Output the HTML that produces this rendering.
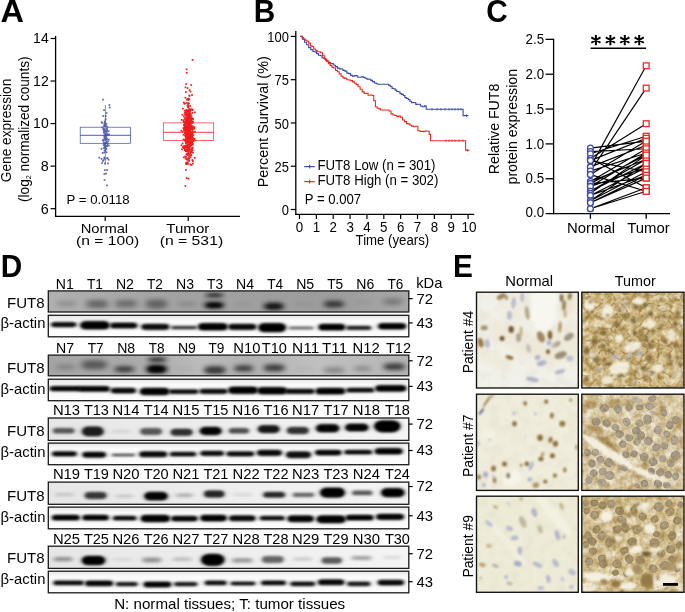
<!DOCTYPE html>
<html><head><meta charset="utf-8"><title>Figure</title>
<style>html,body{margin:0;padding:0;background:#fff;}svg{display:block}text{font-family:"Liberation Sans",sans-serif;}</style>
</head><body>
<svg width="685" height="612" viewBox="0 0 685 612" style="opacity:0.999">
<rect width="685" height="612" fill="#fff"/>
<text transform="translate(0.4,22) scale(1.06,1)" font-size="30.7" font-weight="bold">A</text>
<text transform="translate(253.8,22) scale(0.97,1)" font-size="30.7" font-weight="bold">B</text>
<text transform="translate(486.2,22) scale(0.97,1)" font-size="30.7" font-weight="bold">C</text>
<text transform="translate(0.8,277) scale(0.97,1)" font-size="30.7" font-weight="bold">D</text>
<text transform="translate(453,277) scale(0.97,1)" font-size="30.7" font-weight="bold">E</text>
<line x1="55.6" y1="35.9" x2="55.6" y2="216.9" stroke="#000" stroke-width="1.3"/>
<line x1="55.0" y1="216.3" x2="240" y2="216.3" stroke="#000" stroke-width="1.3"/>
<line x1="50.6" y1="208.65" x2="55.6" y2="208.65" stroke="#000" stroke-width="1.2"/>
<text x="48.7" y="213.55" font-size="14.3" text-anchor="end" textLength="8" lengthAdjust="spacingAndGlyphs">6</text>
<line x1="50.6" y1="166.1125" x2="55.6" y2="166.1125" stroke="#000" stroke-width="1.2"/>
<text x="48.7" y="171.01250000000002" font-size="14.3" text-anchor="end" textLength="8" lengthAdjust="spacingAndGlyphs">8</text>
<line x1="50.6" y1="123.575" x2="55.6" y2="123.575" stroke="#000" stroke-width="1.2"/>
<text x="48.7" y="128.475" font-size="14.3" text-anchor="end" textLength="15.6" lengthAdjust="spacingAndGlyphs">10</text>
<line x1="50.6" y1="81.0375" x2="55.6" y2="81.0375" stroke="#000" stroke-width="1.2"/>
<text x="48.7" y="85.9375" font-size="14.3" text-anchor="end" textLength="15.6" lengthAdjust="spacingAndGlyphs">12</text>
<line x1="50.6" y1="38.5" x2="55.6" y2="38.5" stroke="#000" stroke-width="1.2"/>
<text x="48.7" y="43.4" font-size="14.3" text-anchor="end" textLength="15.6" lengthAdjust="spacingAndGlyphs">14</text>
<line x1="105.2" y1="216.3" x2="105.2" y2="221" stroke="#000" stroke-width="1.2"/>
<line x1="188.2" y1="216.3" x2="188.2" y2="221" stroke="#000" stroke-width="1.2"/>
<text x="104.4" y="232.7" font-size="13.3" text-anchor="middle" textLength="47.5" lengthAdjust="spacingAndGlyphs">Normal</text>
<text x="107.6" y="245.2" font-size="13.3" text-anchor="middle" textLength="63" lengthAdjust="spacingAndGlyphs">(n = 100)</text>
<text x="187.8" y="232.7" font-size="13.3" text-anchor="middle" textLength="43" lengthAdjust="spacingAndGlyphs">Tumor</text>
<text x="191.4" y="245.2" font-size="13.3" text-anchor="middle" textLength="63.5" lengthAdjust="spacingAndGlyphs">(n = 531)</text>
<text x="66.6" y="204.4" font-size="13.6" textLength="63" lengthAdjust="spacingAndGlyphs">P = 0.0118</text>
<text x="0" y="0" transform="translate(11.3,130.5) rotate(-90)" font-size="14" text-anchor="middle" textLength="103.5" lengthAdjust="spacingAndGlyphs">Gene expression</text>
<text transform="translate(28.8,129.2) rotate(-90)" font-size="14" text-anchor="middle" textLength="145.5" lengthAdjust="spacingAndGlyphs">(log<tspan font-size="7.5" dy="2.5">2</tspan><tspan dy="-2.5"> normalized counts)</tspan></text>
<g fill="#3d4ba3" opacity="0.85"><rect x="106.7" y="133.3" width="1.7" height="1.7"/><rect x="106.2" y="145.3" width="1.7" height="1.7"/><rect x="104.1" y="137.5" width="1.7" height="1.7"/><rect x="104.5" y="132.6" width="1.7" height="1.7"/><rect x="106.5" y="125.9" width="1.7" height="1.7"/><rect x="105.5" y="134.8" width="1.7" height="1.7"/><rect x="103.9" y="145.8" width="1.7" height="1.7"/><rect x="102.3" y="139.5" width="1.7" height="1.7"/><rect x="101.8" y="152.1" width="1.7" height="1.7"/><rect x="104.3" y="137.2" width="1.7" height="1.7"/><rect x="104.7" y="138.2" width="1.7" height="1.7"/><rect x="104.4" y="150.0" width="1.7" height="1.7"/><rect x="105.8" y="131.6" width="1.7" height="1.7"/><rect x="103.9" y="144.3" width="1.7" height="1.7"/><rect x="103.7" y="158.0" width="1.7" height="1.7"/><rect x="102.1" y="160.1" width="1.7" height="1.7"/><rect x="100.8" y="121.5" width="1.7" height="1.7"/><rect x="105.1" y="125.1" width="1.7" height="1.7"/><rect x="105.3" y="138.1" width="1.7" height="1.7"/><rect x="106.3" y="128.3" width="1.7" height="1.7"/><rect x="103.5" y="137.1" width="1.7" height="1.7"/><rect x="102.9" y="141.5" width="1.7" height="1.7"/><rect x="103.2" y="134.9" width="1.7" height="1.7"/><rect x="101.4" y="121.9" width="1.7" height="1.7"/><rect x="102.9" y="147.2" width="1.7" height="1.7"/><rect x="107.8" y="158.9" width="1.7" height="1.7"/><rect x="104.1" y="162.6" width="1.7" height="1.7"/><rect x="107.4" y="140.6" width="1.7" height="1.7"/><rect x="106.4" y="157.6" width="1.7" height="1.7"/><rect x="104.3" y="143.0" width="1.7" height="1.7"/><rect x="105.6" y="142.3" width="1.7" height="1.7"/><rect x="104.4" y="147.7" width="1.7" height="1.7"/><rect x="107.7" y="130.3" width="1.7" height="1.7"/><rect x="107.1" y="162.6" width="1.7" height="1.7"/><rect x="103.7" y="123.3" width="1.7" height="1.7"/><rect x="103.8" y="130.9" width="1.7" height="1.7"/><rect x="104.9" y="115.2" width="1.7" height="1.7"/><rect x="104.2" y="136.9" width="1.7" height="1.7"/><rect x="104.2" y="136.8" width="1.7" height="1.7"/><rect x="108.0" y="144.7" width="1.7" height="1.7"/><rect x="98.4" y="156.8" width="1.7" height="1.7"/><rect x="104.3" y="135.9" width="1.7" height="1.7"/><rect x="104.2" y="130.1" width="1.7" height="1.7"/><rect x="105.1" y="136.2" width="1.7" height="1.7"/><rect x="103.8" y="123.1" width="1.7" height="1.7"/><rect x="107.8" y="138.8" width="1.7" height="1.7"/><rect x="102.9" y="128.2" width="1.7" height="1.7"/><rect x="103.5" y="125.3" width="1.7" height="1.7"/><rect x="105.1" y="148.2" width="1.7" height="1.7"/><rect x="102.8" y="144.2" width="1.7" height="1.7"/><rect x="103.7" y="149.6" width="1.7" height="1.7"/><rect x="103.8" y="121.5" width="1.7" height="1.7"/><rect x="105.7" y="151.4" width="1.7" height="1.7"/><rect x="106.0" y="133.7" width="1.7" height="1.7"/><rect x="104.3" y="120.4" width="1.7" height="1.7"/><rect x="104.5" y="136.1" width="1.7" height="1.7"/><rect x="105.7" y="147.7" width="1.7" height="1.7"/><rect x="104.8" y="118.4" width="1.7" height="1.7"/><rect x="104.1" y="137.2" width="1.7" height="1.7"/><rect x="103.2" y="143.6" width="1.7" height="1.7"/><rect x="103.1" y="139.1" width="1.7" height="1.7"/><rect x="101.9" y="139.5" width="1.7" height="1.7"/><rect x="104.6" y="130.3" width="1.7" height="1.7"/><rect x="100.6" y="147.9" width="1.7" height="1.7"/><rect x="106.4" y="134.5" width="1.7" height="1.7"/><rect x="103.7" y="143.0" width="1.7" height="1.7"/><rect x="105.7" y="141.1" width="1.7" height="1.7"/><rect x="106.2" y="145.1" width="1.7" height="1.7"/><rect x="106.1" y="138.0" width="1.7" height="1.7"/><rect x="104.2" y="134.0" width="1.7" height="1.7"/><rect x="103.4" y="151.7" width="1.7" height="1.7"/><rect x="105.7" y="137.5" width="1.7" height="1.7"/><rect x="103.4" y="131.6" width="1.7" height="1.7"/><rect x="106.2" y="129.6" width="1.7" height="1.7"/><rect x="103.8" y="136.2" width="1.7" height="1.7"/><rect x="105.9" y="139.0" width="1.7" height="1.7"/><rect x="103.0" y="128.1" width="1.7" height="1.7"/><rect x="103.7" y="130.0" width="1.7" height="1.7"/><rect x="106.7" y="143.2" width="1.7" height="1.7"/><rect x="103.3" y="124.8" width="1.7" height="1.7"/><rect x="105.4" y="133.5" width="1.7" height="1.7"/><rect x="104.3" y="141.9" width="1.7" height="1.7"/><rect x="101.5" y="126.6" width="1.7" height="1.7"/><rect x="105.8" y="130.6" width="1.7" height="1.7"/><rect x="102.3" y="128.5" width="1.7" height="1.7"/><rect x="103.1" y="130.7" width="1.7" height="1.7"/><rect x="105.6" y="127.8" width="1.7" height="1.7"/><rect x="103.2" y="131.9" width="1.7" height="1.7"/><rect x="106.0" y="141.3" width="1.7" height="1.7"/><rect x="105.4" y="144.9" width="1.7" height="1.7"/><rect x="104.1" y="128.4" width="1.7" height="1.7"/><rect x="108.2" y="133.6" width="1.7" height="1.7"/><rect x="100.7" y="158.0" width="1.7" height="1.7"/><rect x="105.6" y="122.9" width="1.7" height="1.7"/><rect x="104.5" y="138.1" width="1.7" height="1.7"/><rect x="103.5" y="156.7" width="1.7" height="1.7"/><rect x="104.2" y="146.5" width="1.7" height="1.7"/><rect x="104.6" y="124.1" width="1.7" height="1.7"/><rect x="103.4" y="130.1" width="1.7" height="1.7"/><rect x="104.7" y="139.5" width="1.7" height="1.7"/><rect x="102.2" y="98.8" width="1.7" height="1.7"/><rect x="108.6" y="104.2" width="1.7" height="1.7"/><rect x="108.8" y="106.7" width="1.7" height="1.7"/><rect x="106.2" y="184.6" width="1.7" height="1.7"/><rect x="103.7" y="179.2" width="1.7" height="1.7"/><rect x="105.2" y="172.7" width="1.7" height="1.7"/><rect x="103.5" y="173.2" width="1.7" height="1.7"/><rect x="104.0" y="169.2" width="1.7" height="1.7"/><rect x="106.2" y="169.2" width="1.7" height="1.7"/><rect x="101.2" y="162.2" width="1.7" height="1.7"/><rect x="102.7" y="159.2" width="1.7" height="1.7"/><rect x="106.7" y="157.2" width="1.7" height="1.7"/><rect x="103.2" y="109.2" width="1.7" height="1.7"/><rect x="105.7" y="112.2" width="1.7" height="1.7"/><rect x="102.4" y="115.2" width="1.7" height="1.7"/></g>
<rect x="80.2" y="127.2" width="50.4" height="16.1" fill="none" stroke="#3d4ba3" stroke-width="0.7"/>
<line x1="80.2" y1="135.3" x2="130.6" y2="135.3" stroke="#3d4ba3" stroke-width="0.9"/>
<line x1="105.4" y1="105" x2="105.4" y2="127.2" stroke="#3d4ba3" stroke-width="0.6"/>
<line x1="105.4" y1="143.3" x2="105.4" y2="165" stroke="#3d4ba3" stroke-width="0.6"/>
<g fill="#ee1d1d"><rect x="190.6" y="134.8" width="1.7" height="1.7"/><rect x="192.0" y="143.1" width="1.7" height="1.7"/><rect x="190.1" y="144.6" width="1.7" height="1.7"/><rect x="191.4" y="141.7" width="1.7" height="1.7"/><rect x="188.6" y="128.9" width="1.7" height="1.7"/><rect x="186.2" y="120.4" width="1.7" height="1.7"/><rect x="183.0" y="145.4" width="1.7" height="1.7"/><rect x="186.0" y="113.7" width="1.7" height="1.7"/><rect x="187.6" y="139.1" width="1.7" height="1.7"/><rect x="183.7" y="102.9" width="1.7" height="1.7"/><rect x="186.7" y="127.3" width="1.7" height="1.7"/><rect x="183.5" y="123.3" width="1.7" height="1.7"/><rect x="189.6" y="136.4" width="1.7" height="1.7"/><rect x="191.3" y="108.9" width="1.7" height="1.7"/><rect x="187.8" y="142.8" width="1.7" height="1.7"/><rect x="184.5" y="132.3" width="1.7" height="1.7"/><rect x="189.4" y="151.0" width="1.7" height="1.7"/><rect x="187.3" y="127.4" width="1.7" height="1.7"/><rect x="185.3" y="113.7" width="1.7" height="1.7"/><rect x="187.7" y="123.4" width="1.7" height="1.7"/><rect x="188.8" y="131.6" width="1.7" height="1.7"/><rect x="188.3" y="128.3" width="1.7" height="1.7"/><rect x="192.1" y="127.1" width="1.7" height="1.7"/><rect x="190.0" y="135.2" width="1.7" height="1.7"/><rect x="186.8" y="122.3" width="1.7" height="1.7"/><rect x="185.7" y="119.6" width="1.7" height="1.7"/><rect x="185.8" y="114.5" width="1.7" height="1.7"/><rect x="188.4" y="137.7" width="1.7" height="1.7"/><rect x="189.7" y="119.1" width="1.7" height="1.7"/><rect x="187.2" y="118.3" width="1.7" height="1.7"/><rect x="188.9" y="144.2" width="1.7" height="1.7"/><rect x="185.5" y="126.6" width="1.7" height="1.7"/><rect x="188.1" y="117.1" width="1.7" height="1.7"/><rect x="188.7" y="144.3" width="1.7" height="1.7"/><rect x="185.6" y="149.4" width="1.7" height="1.7"/><rect x="184.1" y="125.2" width="1.7" height="1.7"/><rect x="184.5" y="130.3" width="1.7" height="1.7"/><rect x="186.0" y="120.5" width="1.7" height="1.7"/><rect x="184.2" y="128.2" width="1.7" height="1.7"/><rect x="189.8" y="135.6" width="1.7" height="1.7"/><rect x="183.4" y="124.4" width="1.7" height="1.7"/><rect x="189.7" y="117.8" width="1.7" height="1.7"/><rect x="190.9" y="136.1" width="1.7" height="1.7"/><rect x="187.5" y="145.7" width="1.7" height="1.7"/><rect x="190.7" y="115.2" width="1.7" height="1.7"/><rect x="185.1" y="112.8" width="1.7" height="1.7"/><rect x="188.6" y="155.8" width="1.7" height="1.7"/><rect x="187.3" y="150.9" width="1.7" height="1.7"/><rect x="190.1" y="148.8" width="1.7" height="1.7"/><rect x="188.9" y="119.5" width="1.7" height="1.7"/><rect x="187.8" y="130.6" width="1.7" height="1.7"/><rect x="188.5" y="135.0" width="1.7" height="1.7"/><rect x="188.7" y="127.3" width="1.7" height="1.7"/><rect x="192.0" y="136.8" width="1.7" height="1.7"/><rect x="190.9" y="126.8" width="1.7" height="1.7"/><rect x="185.6" y="112.1" width="1.7" height="1.7"/><rect x="190.5" y="154.5" width="1.7" height="1.7"/><rect x="187.8" y="136.2" width="1.7" height="1.7"/><rect x="188.0" y="134.4" width="1.7" height="1.7"/><rect x="187.4" y="147.5" width="1.7" height="1.7"/><rect x="187.6" y="137.3" width="1.7" height="1.7"/><rect x="189.5" y="163.6" width="1.7" height="1.7"/><rect x="183.7" y="126.1" width="1.7" height="1.7"/><rect x="187.7" y="141.1" width="1.7" height="1.7"/><rect x="187.7" y="122.0" width="1.7" height="1.7"/><rect x="187.7" y="111.4" width="1.7" height="1.7"/><rect x="186.1" y="144.8" width="1.7" height="1.7"/><rect x="186.2" y="120.4" width="1.7" height="1.7"/><rect x="190.0" y="119.0" width="1.7" height="1.7"/><rect x="190.0" y="122.5" width="1.7" height="1.7"/><rect x="187.6" y="133.2" width="1.7" height="1.7"/><rect x="186.2" y="139.1" width="1.7" height="1.7"/><rect x="186.4" y="152.8" width="1.7" height="1.7"/><rect x="184.4" y="145.8" width="1.7" height="1.7"/><rect x="188.7" y="128.8" width="1.7" height="1.7"/><rect x="190.8" y="135.6" width="1.7" height="1.7"/><rect x="190.1" y="117.6" width="1.7" height="1.7"/><rect x="184.2" y="139.3" width="1.7" height="1.7"/><rect x="188.4" y="123.0" width="1.7" height="1.7"/><rect x="188.6" y="120.6" width="1.7" height="1.7"/><rect x="187.0" y="113.1" width="1.7" height="1.7"/><rect x="185.6" y="121.4" width="1.7" height="1.7"/><rect x="186.6" y="163.2" width="1.7" height="1.7"/><rect x="183.8" y="109.8" width="1.7" height="1.7"/><rect x="186.1" y="116.5" width="1.7" height="1.7"/><rect x="187.8" y="136.4" width="1.7" height="1.7"/><rect x="185.4" y="127.8" width="1.7" height="1.7"/><rect x="188.7" y="129.0" width="1.7" height="1.7"/><rect x="185.9" y="119.1" width="1.7" height="1.7"/><rect x="192.0" y="109.0" width="1.7" height="1.7"/><rect x="184.6" y="96.9" width="1.7" height="1.7"/><rect x="183.4" y="128.4" width="1.7" height="1.7"/><rect x="188.9" y="125.5" width="1.7" height="1.7"/><rect x="184.0" y="146.9" width="1.7" height="1.7"/><rect x="189.1" y="128.2" width="1.7" height="1.7"/><rect x="187.0" y="141.9" width="1.7" height="1.7"/><rect x="188.0" y="140.7" width="1.7" height="1.7"/><rect x="191.3" y="128.7" width="1.7" height="1.7"/><rect x="182.5" y="146.8" width="1.7" height="1.7"/><rect x="186.3" y="124.5" width="1.7" height="1.7"/><rect x="189.3" y="126.8" width="1.7" height="1.7"/><rect x="191.0" y="122.4" width="1.7" height="1.7"/><rect x="183.8" y="111.8" width="1.7" height="1.7"/><rect x="192.3" y="131.7" width="1.7" height="1.7"/><rect x="189.9" y="136.5" width="1.7" height="1.7"/><rect x="186.7" y="131.6" width="1.7" height="1.7"/><rect x="190.0" y="108.6" width="1.7" height="1.7"/><rect x="189.7" y="134.2" width="1.7" height="1.7"/><rect x="186.0" y="149.2" width="1.7" height="1.7"/><rect x="187.7" y="118.1" width="1.7" height="1.7"/><rect x="188.7" y="145.7" width="1.7" height="1.7"/><rect x="190.6" y="126.2" width="1.7" height="1.7"/><rect x="187.0" y="117.4" width="1.7" height="1.7"/><rect x="187.3" y="137.6" width="1.7" height="1.7"/><rect x="191.0" y="134.0" width="1.7" height="1.7"/><rect x="190.8" y="108.5" width="1.7" height="1.7"/><rect x="187.1" y="125.5" width="1.7" height="1.7"/><rect x="186.8" y="118.1" width="1.7" height="1.7"/><rect x="183.8" y="127.5" width="1.7" height="1.7"/><rect x="191.0" y="136.8" width="1.7" height="1.7"/><rect x="184.2" y="145.2" width="1.7" height="1.7"/><rect x="191.5" y="133.1" width="1.7" height="1.7"/><rect x="186.8" y="110.4" width="1.7" height="1.7"/><rect x="187.4" y="137.5" width="1.7" height="1.7"/><rect x="187.7" y="143.9" width="1.7" height="1.7"/><rect x="184.3" y="135.0" width="1.7" height="1.7"/><rect x="187.1" y="138.9" width="1.7" height="1.7"/><rect x="185.1" y="142.9" width="1.7" height="1.7"/><rect x="192.0" y="118.1" width="1.7" height="1.7"/><rect x="186.7" y="134.8" width="1.7" height="1.7"/><rect x="187.1" y="123.8" width="1.7" height="1.7"/><rect x="190.9" y="141.8" width="1.7" height="1.7"/><rect x="186.0" y="145.4" width="1.7" height="1.7"/><rect x="185.6" y="140.1" width="1.7" height="1.7"/><rect x="189.0" y="134.2" width="1.7" height="1.7"/><rect x="189.2" y="110.6" width="1.7" height="1.7"/><rect x="184.8" y="130.3" width="1.7" height="1.7"/><rect x="185.5" y="131.7" width="1.7" height="1.7"/><rect x="189.9" y="132.2" width="1.7" height="1.7"/><rect x="187.2" y="127.9" width="1.7" height="1.7"/><rect x="187.6" y="141.4" width="1.7" height="1.7"/><rect x="185.5" y="129.3" width="1.7" height="1.7"/><rect x="189.7" y="137.9" width="1.7" height="1.7"/><rect x="186.6" y="154.1" width="1.7" height="1.7"/><rect x="191.2" y="147.2" width="1.7" height="1.7"/><rect x="188.8" y="122.3" width="1.7" height="1.7"/><rect x="188.3" y="125.2" width="1.7" height="1.7"/><rect x="184.0" y="126.7" width="1.7" height="1.7"/><rect x="189.0" y="127.2" width="1.7" height="1.7"/><rect x="189.5" y="150.9" width="1.7" height="1.7"/><rect x="184.1" y="121.4" width="1.7" height="1.7"/><rect x="186.9" y="137.4" width="1.7" height="1.7"/><rect x="188.5" y="138.2" width="1.7" height="1.7"/><rect x="187.1" y="148.7" width="1.7" height="1.7"/><rect x="189.3" y="127.6" width="1.7" height="1.7"/><rect x="187.1" y="130.1" width="1.7" height="1.7"/><rect x="183.1" y="121.1" width="1.7" height="1.7"/><rect x="186.9" y="117.7" width="1.7" height="1.7"/><rect x="186.7" y="148.4" width="1.7" height="1.7"/><rect x="182.9" y="156.5" width="1.7" height="1.7"/><rect x="185.9" y="135.4" width="1.7" height="1.7"/><rect x="185.6" y="120.5" width="1.7" height="1.7"/><rect x="185.4" y="149.0" width="1.7" height="1.7"/><rect x="187.7" y="106.7" width="1.7" height="1.7"/><rect x="185.4" y="139.4" width="1.7" height="1.7"/><rect x="187.3" y="146.2" width="1.7" height="1.7"/><rect x="190.3" y="124.8" width="1.7" height="1.7"/><rect x="188.3" y="114.7" width="1.7" height="1.7"/><rect x="185.7" y="140.1" width="1.7" height="1.7"/><rect x="185.3" y="163.3" width="1.7" height="1.7"/><rect x="186.9" y="124.9" width="1.7" height="1.7"/><rect x="184.5" y="125.6" width="1.7" height="1.7"/><rect x="188.3" y="118.2" width="1.7" height="1.7"/><rect x="188.6" y="130.2" width="1.7" height="1.7"/><rect x="186.4" y="162.2" width="1.7" height="1.7"/><rect x="191.8" y="143.4" width="1.7" height="1.7"/><rect x="186.5" y="133.4" width="1.7" height="1.7"/><rect x="185.2" y="118.8" width="1.7" height="1.7"/><rect x="186.0" y="110.8" width="1.7" height="1.7"/><rect x="185.5" y="131.6" width="1.7" height="1.7"/><rect x="182.7" y="119.5" width="1.7" height="1.7"/><rect x="185.8" y="121.1" width="1.7" height="1.7"/><rect x="185.0" y="130.1" width="1.7" height="1.7"/><rect x="188.1" y="127.6" width="1.7" height="1.7"/><rect x="188.4" y="122.5" width="1.7" height="1.7"/><rect x="189.9" y="122.1" width="1.7" height="1.7"/><rect x="184.9" y="136.3" width="1.7" height="1.7"/><rect x="189.2" y="148.7" width="1.7" height="1.7"/><rect x="190.1" y="136.1" width="1.7" height="1.7"/><rect x="185.3" y="130.2" width="1.7" height="1.7"/><rect x="192.1" y="118.1" width="1.7" height="1.7"/><rect x="185.5" y="133.3" width="1.7" height="1.7"/><rect x="189.7" y="142.7" width="1.7" height="1.7"/><rect x="186.7" y="139.0" width="1.7" height="1.7"/><rect x="187.7" y="121.2" width="1.7" height="1.7"/><rect x="186.4" y="129.2" width="1.7" height="1.7"/><rect x="188.0" y="139.8" width="1.7" height="1.7"/><rect x="189.0" y="128.6" width="1.7" height="1.7"/><rect x="188.4" y="137.8" width="1.7" height="1.7"/><rect x="187.8" y="124.1" width="1.7" height="1.7"/><rect x="190.0" y="122.8" width="1.7" height="1.7"/><rect x="187.8" y="128.0" width="1.7" height="1.7"/><rect x="188.4" y="144.4" width="1.7" height="1.7"/><rect x="186.9" y="132.1" width="1.7" height="1.7"/><rect x="189.0" y="142.4" width="1.7" height="1.7"/><rect x="188.6" y="94.9" width="1.7" height="1.7"/><rect x="188.7" y="129.6" width="1.7" height="1.7"/><rect x="187.9" y="139.1" width="1.7" height="1.7"/><rect x="186.2" y="140.1" width="1.7" height="1.7"/><rect x="188.2" y="127.5" width="1.7" height="1.7"/><rect x="185.8" y="132.4" width="1.7" height="1.7"/><rect x="185.1" y="127.1" width="1.7" height="1.7"/><rect x="186.9" y="120.0" width="1.7" height="1.7"/><rect x="189.5" y="130.8" width="1.7" height="1.7"/><rect x="184.7" y="123.0" width="1.7" height="1.7"/><rect x="188.5" y="134.3" width="1.7" height="1.7"/><rect x="182.1" y="146.1" width="1.7" height="1.7"/><rect x="187.5" y="131.8" width="1.7" height="1.7"/><rect x="187.8" y="124.8" width="1.7" height="1.7"/><rect x="188.2" y="129.0" width="1.7" height="1.7"/><rect x="188.8" y="111.5" width="1.7" height="1.7"/><rect x="186.7" y="123.2" width="1.7" height="1.7"/><rect x="187.2" y="115.0" width="1.7" height="1.7"/><rect x="182.8" y="120.5" width="1.7" height="1.7"/><rect x="187.4" y="127.4" width="1.7" height="1.7"/><rect x="190.6" y="137.3" width="1.7" height="1.7"/><rect x="187.3" y="125.1" width="1.7" height="1.7"/><rect x="192.0" y="138.2" width="1.7" height="1.7"/><rect x="189.2" y="120.3" width="1.7" height="1.7"/><rect x="190.6" y="141.5" width="1.7" height="1.7"/><rect x="187.0" y="123.0" width="1.7" height="1.7"/><rect x="183.9" y="132.3" width="1.7" height="1.7"/><rect x="185.1" y="121.7" width="1.7" height="1.7"/><rect x="186.6" y="119.0" width="1.7" height="1.7"/><rect x="188.5" y="139.5" width="1.7" height="1.7"/><rect x="185.1" y="127.8" width="1.7" height="1.7"/><rect x="189.0" y="131.9" width="1.7" height="1.7"/><rect x="184.6" y="134.3" width="1.7" height="1.7"/><rect x="185.4" y="134.2" width="1.7" height="1.7"/><rect x="187.8" y="138.9" width="1.7" height="1.7"/><rect x="187.2" y="131.5" width="1.7" height="1.7"/><rect x="188.4" y="154.0" width="1.7" height="1.7"/><rect x="186.7" y="133.6" width="1.7" height="1.7"/><rect x="192.1" y="128.6" width="1.7" height="1.7"/><rect x="184.0" y="148.8" width="1.7" height="1.7"/><rect x="185.8" y="120.1" width="1.7" height="1.7"/><rect x="185.4" y="112.6" width="1.7" height="1.7"/><rect x="189.6" y="137.6" width="1.7" height="1.7"/><rect x="188.7" y="118.1" width="1.7" height="1.7"/><rect x="187.4" y="124.4" width="1.7" height="1.7"/><rect x="187.2" y="137.0" width="1.7" height="1.7"/><rect x="189.3" y="113.1" width="1.7" height="1.7"/><rect x="188.4" y="130.5" width="1.7" height="1.7"/><rect x="190.4" y="119.2" width="1.7" height="1.7"/><rect x="187.5" y="132.7" width="1.7" height="1.7"/><rect x="193.6" y="126.2" width="1.7" height="1.7"/><rect x="190.6" y="127.4" width="1.7" height="1.7"/><rect x="189.6" y="152.2" width="1.7" height="1.7"/><rect x="185.2" y="150.4" width="1.7" height="1.7"/><rect x="187.3" y="139.6" width="1.7" height="1.7"/><rect x="188.5" y="128.3" width="1.7" height="1.7"/><rect x="186.7" y="127.7" width="1.7" height="1.7"/><rect x="188.5" y="94.7" width="1.7" height="1.7"/><rect x="192.3" y="121.5" width="1.7" height="1.7"/><rect x="189.0" y="117.3" width="1.7" height="1.7"/><rect x="191.9" y="126.3" width="1.7" height="1.7"/><rect x="185.5" y="145.9" width="1.7" height="1.7"/><rect x="183.0" y="128.8" width="1.7" height="1.7"/><rect x="190.2" y="141.6" width="1.7" height="1.7"/><rect x="188.0" y="137.2" width="1.7" height="1.7"/><rect x="185.0" y="121.2" width="1.7" height="1.7"/><rect x="186.2" y="127.0" width="1.7" height="1.7"/><rect x="187.0" y="146.0" width="1.7" height="1.7"/><rect x="186.7" y="131.6" width="1.7" height="1.7"/><rect x="189.8" y="140.0" width="1.7" height="1.7"/><rect x="188.9" y="114.8" width="1.7" height="1.7"/><rect x="185.2" y="132.2" width="1.7" height="1.7"/><rect x="185.1" y="142.2" width="1.7" height="1.7"/><rect x="189.7" y="127.9" width="1.7" height="1.7"/><rect x="187.6" y="118.1" width="1.7" height="1.7"/><rect x="188.1" y="136.1" width="1.7" height="1.7"/><rect x="189.0" y="129.1" width="1.7" height="1.7"/><rect x="186.1" y="110.3" width="1.7" height="1.7"/><rect x="182.9" y="101.7" width="1.7" height="1.7"/><rect x="184.2" y="155.6" width="1.7" height="1.7"/><rect x="187.1" y="145.1" width="1.7" height="1.7"/><rect x="186.1" y="102.1" width="1.7" height="1.7"/><rect x="186.8" y="115.5" width="1.7" height="1.7"/><rect x="185.3" y="128.7" width="1.7" height="1.7"/><rect x="187.6" y="99.2" width="1.7" height="1.7"/><rect x="192.8" y="139.4" width="1.7" height="1.7"/><rect x="188.6" y="128.3" width="1.7" height="1.7"/><rect x="185.8" y="132.8" width="1.7" height="1.7"/><rect x="187.2" y="150.7" width="1.7" height="1.7"/><rect x="188.6" y="108.3" width="1.7" height="1.7"/><rect x="190.1" y="133.2" width="1.7" height="1.7"/><rect x="190.8" y="143.8" width="1.7" height="1.7"/><rect x="185.8" y="131.0" width="1.7" height="1.7"/><rect x="188.8" y="121.4" width="1.7" height="1.7"/><rect x="188.1" y="135.6" width="1.7" height="1.7"/><rect x="190.9" y="117.2" width="1.7" height="1.7"/><rect x="181.7" y="142.6" width="1.7" height="1.7"/><rect x="187.1" y="102.4" width="1.7" height="1.7"/><rect x="188.6" y="136.6" width="1.7" height="1.7"/><rect x="190.0" y="136.7" width="1.7" height="1.7"/><rect x="187.2" y="148.1" width="1.7" height="1.7"/><rect x="191.1" y="148.3" width="1.7" height="1.7"/><rect x="190.2" y="134.2" width="1.7" height="1.7"/><rect x="184.9" y="111.5" width="1.7" height="1.7"/><rect x="189.3" y="133.9" width="1.7" height="1.7"/><rect x="187.3" y="130.1" width="1.7" height="1.7"/><rect x="189.7" y="119.1" width="1.7" height="1.7"/><rect x="187.3" y="139.0" width="1.7" height="1.7"/><rect x="188.1" y="121.8" width="1.7" height="1.7"/><rect x="185.1" y="128.8" width="1.7" height="1.7"/><rect x="187.1" y="106.4" width="1.7" height="1.7"/><rect x="187.6" y="127.1" width="1.7" height="1.7"/><rect x="188.0" y="129.9" width="1.7" height="1.7"/><rect x="188.5" y="142.4" width="1.7" height="1.7"/><rect x="188.6" y="114.1" width="1.7" height="1.7"/><rect x="188.8" y="120.7" width="1.7" height="1.7"/><rect x="191.8" y="130.4" width="1.7" height="1.7"/><rect x="188.5" y="140.3" width="1.7" height="1.7"/><rect x="188.3" y="116.5" width="1.7" height="1.7"/><rect x="185.2" y="145.5" width="1.7" height="1.7"/><rect x="185.5" y="109.0" width="1.7" height="1.7"/><rect x="188.9" y="130.7" width="1.7" height="1.7"/><rect x="183.6" y="129.5" width="1.7" height="1.7"/><rect x="187.4" y="157.2" width="1.7" height="1.7"/><rect x="187.1" y="141.6" width="1.7" height="1.7"/><rect x="188.0" y="129.5" width="1.7" height="1.7"/><rect x="183.8" y="149.4" width="1.7" height="1.7"/><rect x="186.2" y="117.7" width="1.7" height="1.7"/><rect x="183.1" y="147.1" width="1.7" height="1.7"/><rect x="184.8" y="123.3" width="1.7" height="1.7"/><rect x="189.1" y="145.4" width="1.7" height="1.7"/><rect x="188.9" y="126.5" width="1.7" height="1.7"/><rect x="181.1" y="148.5" width="1.7" height="1.7"/><rect x="187.0" y="144.6" width="1.7" height="1.7"/><rect x="189.7" y="140.0" width="1.7" height="1.7"/><rect x="185.3" y="125.8" width="1.7" height="1.7"/><rect x="187.3" y="122.9" width="1.7" height="1.7"/><rect x="190.2" y="137.6" width="1.7" height="1.7"/><rect x="190.0" y="154.1" width="1.7" height="1.7"/><rect x="182.9" y="115.6" width="1.7" height="1.7"/><rect x="187.3" y="133.5" width="1.7" height="1.7"/><rect x="186.3" y="146.6" width="1.7" height="1.7"/><rect x="187.8" y="142.1" width="1.7" height="1.7"/><rect x="182.7" y="138.6" width="1.7" height="1.7"/><rect x="189.7" y="114.1" width="1.7" height="1.7"/><rect x="189.7" y="142.5" width="1.7" height="1.7"/><rect x="184.1" y="102.5" width="1.7" height="1.7"/><rect x="186.5" y="136.5" width="1.7" height="1.7"/><rect x="187.0" y="123.0" width="1.7" height="1.7"/><rect x="190.5" y="150.4" width="1.7" height="1.7"/><rect x="189.3" y="135.3" width="1.7" height="1.7"/><rect x="185.9" y="98.8" width="1.7" height="1.7"/><rect x="189.7" y="136.6" width="1.7" height="1.7"/><rect x="188.8" y="132.3" width="1.7" height="1.7"/><rect x="194.1" y="130.9" width="1.7" height="1.7"/><rect x="188.4" y="121.9" width="1.7" height="1.7"/><rect x="188.5" y="129.0" width="1.7" height="1.7"/><rect x="187.0" y="153.6" width="1.7" height="1.7"/><rect x="184.9" y="120.4" width="1.7" height="1.7"/><rect x="187.4" y="130.2" width="1.7" height="1.7"/><rect x="193.4" y="138.0" width="1.7" height="1.7"/><rect x="188.4" y="120.8" width="1.7" height="1.7"/><rect x="187.8" y="141.8" width="1.7" height="1.7"/><rect x="187.4" y="135.0" width="1.7" height="1.7"/><rect x="193.4" y="127.7" width="1.7" height="1.7"/><rect x="191.6" y="112.0" width="1.7" height="1.7"/><rect x="194.1" y="111.5" width="1.7" height="1.7"/><rect x="184.7" y="140.0" width="1.7" height="1.7"/><rect x="188.3" y="127.9" width="1.7" height="1.7"/><rect x="186.2" y="130.3" width="1.7" height="1.7"/><rect x="191.6" y="121.1" width="1.7" height="1.7"/><rect x="187.1" y="127.7" width="1.7" height="1.7"/><rect x="187.0" y="114.0" width="1.7" height="1.7"/><rect x="188.4" y="135.7" width="1.7" height="1.7"/><rect x="192.0" y="162.8" width="1.7" height="1.7"/><rect x="188.8" y="132.2" width="1.7" height="1.7"/><rect x="188.6" y="126.3" width="1.7" height="1.7"/><rect x="191.7" y="149.5" width="1.7" height="1.7"/><rect x="188.3" y="122.7" width="1.7" height="1.7"/><rect x="184.7" y="86.5" width="1.7" height="1.7"/><rect x="187.4" y="120.3" width="1.7" height="1.7"/><rect x="192.1" y="151.8" width="1.7" height="1.7"/><rect x="188.0" y="152.6" width="1.7" height="1.7"/><rect x="188.1" y="131.9" width="1.7" height="1.7"/><rect x="190.8" y="144.0" width="1.7" height="1.7"/><rect x="184.7" y="127.2" width="1.7" height="1.7"/><rect x="188.3" y="147.8" width="1.7" height="1.7"/><rect x="188.7" y="147.0" width="1.7" height="1.7"/><rect x="186.3" y="126.1" width="1.7" height="1.7"/><rect x="184.7" y="157.9" width="1.7" height="1.7"/><rect x="186.5" y="125.7" width="1.7" height="1.7"/><rect x="186.6" y="104.6" width="1.7" height="1.7"/><rect x="189.2" y="125.4" width="1.7" height="1.7"/><rect x="188.4" y="129.4" width="1.7" height="1.7"/><rect x="187.3" y="116.5" width="1.7" height="1.7"/><rect x="186.8" y="126.0" width="1.7" height="1.7"/><rect x="188.1" y="102.6" width="1.7" height="1.7"/><rect x="180.8" y="119.0" width="1.7" height="1.7"/><rect x="185.1" y="137.6" width="1.7" height="1.7"/><rect x="186.6" y="130.2" width="1.7" height="1.7"/><rect x="187.0" y="145.5" width="1.7" height="1.7"/><rect x="190.1" y="119.3" width="1.7" height="1.7"/><rect x="190.1" y="138.2" width="1.7" height="1.7"/><rect x="189.1" y="139.4" width="1.7" height="1.7"/><rect x="190.1" y="142.8" width="1.7" height="1.7"/><rect x="187.0" y="98.1" width="1.7" height="1.7"/><rect x="184.3" y="113.5" width="1.7" height="1.7"/><rect x="193.8" y="139.6" width="1.7" height="1.7"/><rect x="188.8" y="131.7" width="1.7" height="1.7"/><rect x="187.6" y="153.6" width="1.7" height="1.7"/><rect x="190.4" y="141.7" width="1.7" height="1.7"/><rect x="193.5" y="138.2" width="1.7" height="1.7"/><rect x="188.4" y="146.1" width="1.7" height="1.7"/><rect x="186.7" y="158.9" width="1.7" height="1.7"/><rect x="187.4" y="113.7" width="1.7" height="1.7"/><rect x="188.8" y="149.0" width="1.7" height="1.7"/><rect x="188.7" y="117.4" width="1.7" height="1.7"/><rect x="184.4" y="116.8" width="1.7" height="1.7"/><rect x="189.3" y="105.1" width="1.7" height="1.7"/><rect x="192.0" y="160.3" width="1.7" height="1.7"/><rect x="188.8" y="137.3" width="1.7" height="1.7"/><rect x="186.2" y="158.6" width="1.7" height="1.7"/><rect x="189.6" y="156.4" width="1.7" height="1.7"/><rect x="185.5" y="134.0" width="1.7" height="1.7"/><rect x="190.2" y="136.0" width="1.7" height="1.7"/><rect x="189.0" y="141.7" width="1.7" height="1.7"/><rect x="183.8" y="147.4" width="1.7" height="1.7"/><rect x="187.0" y="137.6" width="1.7" height="1.7"/><rect x="189.8" y="128.3" width="1.7" height="1.7"/><rect x="186.8" y="136.6" width="1.7" height="1.7"/><rect x="188.6" y="120.0" width="1.7" height="1.7"/><rect x="188.2" y="131.5" width="1.7" height="1.7"/><rect x="186.4" y="161.5" width="1.7" height="1.7"/><rect x="186.8" y="153.2" width="1.7" height="1.7"/><rect x="183.8" y="118.1" width="1.7" height="1.7"/><rect x="186.4" y="117.9" width="1.7" height="1.7"/><rect x="186.6" y="133.7" width="1.7" height="1.7"/><rect x="186.1" y="120.8" width="1.7" height="1.7"/><rect x="188.4" y="160.0" width="1.7" height="1.7"/><rect x="189.1" y="132.9" width="1.7" height="1.7"/><rect x="184.9" y="122.3" width="1.7" height="1.7"/><rect x="187.9" y="127.9" width="1.7" height="1.7"/><rect x="187.9" y="131.8" width="1.7" height="1.7"/><rect x="186.4" y="126.4" width="1.7" height="1.7"/><rect x="189.9" y="132.9" width="1.7" height="1.7"/><rect x="187.5" y="145.7" width="1.7" height="1.7"/><rect x="185.2" y="145.0" width="1.7" height="1.7"/><rect x="188.1" y="136.6" width="1.7" height="1.7"/><rect x="187.2" y="109.5" width="1.7" height="1.7"/><rect x="188.9" y="117.7" width="1.7" height="1.7"/><rect x="180.5" y="129.8" width="1.7" height="1.7"/><rect x="187.8" y="129.0" width="1.7" height="1.7"/><rect x="188.0" y="145.4" width="1.7" height="1.7"/><rect x="185.0" y="110.1" width="1.7" height="1.7"/><rect x="189.7" y="138.0" width="1.7" height="1.7"/><rect x="185.3" y="156.1" width="1.7" height="1.7"/><rect x="189.8" y="126.6" width="1.7" height="1.7"/><rect x="189.4" y="113.7" width="1.7" height="1.7"/><rect x="188.5" y="98.4" width="1.7" height="1.7"/><rect x="187.2" y="148.9" width="1.7" height="1.7"/><rect x="188.5" y="122.0" width="1.7" height="1.7"/><rect x="188.5" y="158.0" width="1.7" height="1.7"/><rect x="187.2" y="142.0" width="1.7" height="1.7"/><rect x="187.3" y="110.3" width="1.7" height="1.7"/><rect x="187.4" y="140.1" width="1.7" height="1.7"/><rect x="192.4" y="139.9" width="1.7" height="1.7"/><rect x="189.7" y="119.2" width="1.7" height="1.7"/><rect x="186.2" y="140.4" width="1.7" height="1.7"/><rect x="182.6" y="127.2" width="1.7" height="1.7"/><rect x="184.7" y="116.4" width="1.7" height="1.7"/><rect x="188.4" y="129.4" width="1.7" height="1.7"/><rect x="188.5" y="141.9" width="1.7" height="1.7"/><rect x="192.0" y="121.0" width="1.7" height="1.7"/><rect x="191.8" y="125.3" width="1.7" height="1.7"/><rect x="187.2" y="124.3" width="1.7" height="1.7"/><rect x="186.5" y="118.7" width="1.7" height="1.7"/><rect x="189.1" y="128.7" width="1.7" height="1.7"/><rect x="188.3" y="114.8" width="1.7" height="1.7"/><rect x="190.6" y="151.3" width="1.7" height="1.7"/><rect x="187.0" y="128.4" width="1.7" height="1.7"/><rect x="189.0" y="142.2" width="1.7" height="1.7"/><rect x="189.2" y="126.1" width="1.7" height="1.7"/><rect x="191.2" y="132.6" width="1.7" height="1.7"/><rect x="188.6" y="134.5" width="1.7" height="1.7"/><rect x="190.1" y="128.0" width="1.7" height="1.7"/><rect x="187.0" y="140.5" width="1.7" height="1.7"/><rect x="186.1" y="133.9" width="1.7" height="1.7"/><rect x="184.9" y="140.0" width="1.7" height="1.7"/><rect x="191.1" y="120.3" width="1.7" height="1.7"/><rect x="189.4" y="144.6" width="1.7" height="1.7"/><rect x="185.8" y="146.9" width="1.7" height="1.7"/><rect x="187.9" y="135.3" width="1.7" height="1.7"/><rect x="183.2" y="124.4" width="1.7" height="1.7"/><rect x="187.8" y="149.2" width="1.7" height="1.7"/><rect x="192.5" y="134.3" width="1.7" height="1.7"/><rect x="186.2" y="134.7" width="1.7" height="1.7"/><rect x="181.5" y="113.9" width="1.7" height="1.7"/><rect x="193.9" y="157.0" width="1.7" height="1.7"/><rect x="187.8" y="139.6" width="1.7" height="1.7"/><rect x="185.6" y="133.4" width="1.7" height="1.7"/><rect x="184.6" y="132.9" width="1.7" height="1.7"/><rect x="189.4" y="117.4" width="1.7" height="1.7"/><rect x="185.5" y="121.3" width="1.7" height="1.7"/><rect x="186.5" y="158.0" width="1.7" height="1.7"/><rect x="188.5" y="146.3" width="1.7" height="1.7"/><rect x="185.5" y="153.5" width="1.7" height="1.7"/><rect x="188.6" y="129.0" width="1.7" height="1.7"/><rect x="184.7" y="129.6" width="1.7" height="1.7"/><rect x="192.2" y="140.4" width="1.7" height="1.7"/><rect x="185.7" y="117.7" width="1.7" height="1.7"/><rect x="187.3" y="104.2" width="1.7" height="1.7"/><rect x="185.7" y="130.9" width="1.7" height="1.7"/><rect x="187.9" y="109.7" width="1.7" height="1.7"/><rect x="185.5" y="132.0" width="1.7" height="1.7"/><rect x="188.0" y="148.8" width="1.7" height="1.7"/><rect x="191.2" y="130.8" width="1.7" height="1.7"/><rect x="186.8" y="143.6" width="1.7" height="1.7"/><rect x="189.5" y="117.0" width="1.7" height="1.7"/><rect x="191.0" y="140.4" width="1.7" height="1.7"/><rect x="189.7" y="124.2" width="1.7" height="1.7"/><rect x="189.9" y="126.0" width="1.7" height="1.7"/><rect x="187.1" y="136.7" width="1.7" height="1.7"/><rect x="188.5" y="115.6" width="1.7" height="1.7"/><rect x="190.3" y="125.8" width="1.7" height="1.7"/><rect x="188.6" y="127.6" width="1.7" height="1.7"/><rect x="186.4" y="161.7" width="1.7" height="1.7"/><rect x="185.6" y="119.4" width="1.7" height="1.7"/><rect x="188.2" y="135.0" width="1.7" height="1.7"/><rect x="189.6" y="132.8" width="1.7" height="1.7"/><rect x="187.2" y="124.3" width="1.7" height="1.7"/><rect x="186.8" y="115.7" width="1.7" height="1.7"/><rect x="188.4" y="140.8" width="1.7" height="1.7"/><rect x="187.3" y="122.0" width="1.7" height="1.7"/><rect x="186.5" y="145.9" width="1.7" height="1.7"/><rect x="189.2" y="127.7" width="1.7" height="1.7"/><rect x="187.3" y="106.1" width="1.7" height="1.7"/><rect x="182.7" y="134.0" width="1.7" height="1.7"/><rect x="189.7" y="113.0" width="1.7" height="1.7"/><rect x="186.0" y="130.8" width="1.7" height="1.7"/><rect x="185.8" y="120.7" width="1.7" height="1.7"/><rect x="189.4" y="109.7" width="1.7" height="1.7"/><rect x="187.3" y="112.9" width="1.7" height="1.7"/><rect x="184.4" y="114.2" width="1.7" height="1.7"/><rect x="187.6" y="110.4" width="1.7" height="1.7"/><rect x="186.7" y="147.4" width="1.7" height="1.7"/><rect x="188.2" y="144.5" width="1.7" height="1.7"/><rect x="184.7" y="141.0" width="1.7" height="1.7"/><rect x="187.1" y="135.9" width="1.7" height="1.7"/><rect x="189.2" y="128.0" width="1.7" height="1.7"/><rect x="188.6" y="113.2" width="1.7" height="1.7"/><rect x="182.0" y="107.8" width="1.7" height="1.7"/><rect x="189.8" y="131.9" width="1.7" height="1.7"/><rect x="187.2" y="149.3" width="1.7" height="1.7"/><rect x="184.1" y="127.8" width="1.7" height="1.7"/><rect x="189.0" y="138.9" width="1.7" height="1.7"/><rect x="191.2" y="135.3" width="1.7" height="1.7"/><rect x="187.5" y="97.8" width="1.7" height="1.7"/><rect x="187.6" y="146.9" width="1.7" height="1.7"/><rect x="184.4" y="138.8" width="1.7" height="1.7"/><rect x="186.6" y="136.5" width="1.7" height="1.7"/><rect x="189.8" y="135.9" width="1.7" height="1.7"/><rect x="188.6" y="115.9" width="1.7" height="1.7"/><rect x="188.6" y="135.9" width="1.7" height="1.7"/><rect x="188.2" y="130.5" width="1.7" height="1.7"/><rect x="180.6" y="144.4" width="1.7" height="1.7"/><rect x="186.3" y="118.5" width="1.7" height="1.7"/><rect x="187.6" y="137.9" width="1.7" height="1.7"/><rect x="186.9" y="131.6" width="1.7" height="1.7"/><rect x="187.9" y="109.5" width="1.7" height="1.7"/><rect x="185.6" y="127.6" width="1.7" height="1.7"/><rect x="188.7" y="132.2" width="1.7" height="1.7"/><rect x="188.4" y="132.0" width="1.7" height="1.7"/><rect x="188.5" y="144.0" width="1.7" height="1.7"/><rect x="186.6" y="145.1" width="1.7" height="1.7"/><rect x="188.1" y="141.6" width="1.7" height="1.7"/><rect x="188.3" y="115.6" width="1.7" height="1.7"/><rect x="188.0" y="143.1" width="1.7" height="1.7"/><rect x="189.3" y="116.4" width="1.7" height="1.7"/><rect x="185.1" y="123.9" width="1.7" height="1.7"/><rect x="186.1" y="138.6" width="1.7" height="1.7"/><rect x="188.2" y="137.5" width="1.7" height="1.7"/><rect x="186.8" y="130.3" width="1.7" height="1.7"/><rect x="186.0" y="122.9" width="1.7" height="1.7"/><rect x="187.9" y="135.4" width="1.7" height="1.7"/><rect x="185.7" y="149.8" width="1.7" height="1.7"/><rect x="185.2" y="150.3" width="1.7" height="1.7"/><rect x="187.4" y="132.8" width="1.7" height="1.7"/><rect x="188.4" y="126.1" width="1.7" height="1.7"/><rect x="191.9" y="146.7" width="1.7" height="1.7"/><rect x="184.9" y="112.0" width="1.7" height="1.7"/><rect x="186.5" y="140.5" width="1.7" height="1.7"/><rect x="189.0" y="128.1" width="1.7" height="1.7"/><rect x="181.8" y="130.8" width="1.7" height="1.7"/><rect x="189.6" y="90.8" width="1.7" height="1.7"/><rect x="185.9" y="119.3" width="1.7" height="1.7"/><rect x="191.7" y="59.0" width="1.7" height="1.7"/><rect x="185.8" y="68.5" width="1.7" height="1.7"/><rect x="185.8" y="72.0" width="1.7" height="1.7"/><rect x="184.5" y="185.2" width="1.7" height="1.7"/><rect x="187.7" y="177.8" width="1.7" height="1.7"/><rect x="185.8" y="177.2" width="1.7" height="1.7"/><rect x="185.0" y="169.2" width="1.7" height="1.7"/><rect x="185.2" y="83.2" width="1.7" height="1.7"/><rect x="190.2" y="84.2" width="1.7" height="1.7"/><rect x="186.7" y="87.2" width="1.7" height="1.7"/><rect x="188.7" y="89.2" width="1.7" height="1.7"/><rect x="185.0" y="91.2" width="1.7" height="1.7"/><rect x="191.2" y="94.2" width="1.7" height="1.7"/><rect x="190.7" y="164.2" width="1.7" height="1.7"/><rect x="185.2" y="162.2" width="1.7" height="1.7"/><rect x="191.6" y="159.2" width="1.7" height="1.7"/></g>
<rect x="163.3" y="122.9" width="50.4" height="17.7" fill="none" stroke="#ee2a24" stroke-width="0.7"/>
<line x1="163.3" y1="132.3" x2="213.7" y2="132.3" stroke="#ee2a24" stroke-width="0.9"/>
<line x1="188.5" y1="140.6" x2="188.5" y2="165.3" stroke="#ee2a24" stroke-width="0.6"/>
<line x1="295.8" y1="31.1" x2="295.8" y2="214.9" stroke="#000" stroke-width="1.3"/>
<line x1="295.2" y1="214.3" x2="474.2" y2="214.3" stroke="#000" stroke-width="1.3"/>
<line x1="290.8" y1="209.5" x2="295.8" y2="209.5" stroke="#000" stroke-width="1.2"/>
<text x="288.90000000000003" y="215.2" font-size="14.3" text-anchor="end" textLength="7.2" lengthAdjust="spacingAndGlyphs">0</text>
<line x1="290.8" y1="166.225" x2="295.8" y2="166.225" stroke="#000" stroke-width="1.2"/>
<text x="288.90000000000003" y="171.92499999999998" font-size="14.3" text-anchor="end" textLength="14.4" lengthAdjust="spacingAndGlyphs">25</text>
<line x1="290.8" y1="122.95" x2="295.8" y2="122.95" stroke="#000" stroke-width="1.2"/>
<text x="288.90000000000003" y="128.65" font-size="14.3" text-anchor="end" textLength="14.4" lengthAdjust="spacingAndGlyphs">50</text>
<line x1="290.8" y1="79.67500000000001" x2="295.8" y2="79.67500000000001" stroke="#000" stroke-width="1.2"/>
<text x="288.90000000000003" y="85.37500000000001" font-size="14.3" text-anchor="end" textLength="14.4" lengthAdjust="spacingAndGlyphs">75</text>
<line x1="290.8" y1="36.400000000000006" x2="295.8" y2="36.400000000000006" stroke="#000" stroke-width="1.2"/>
<text x="288.90000000000003" y="42.10000000000001" font-size="14.3" text-anchor="end" textLength="21.6" lengthAdjust="spacingAndGlyphs">100</text>
<line x1="299.5" y1="214.3" x2="299.5" y2="219" stroke="#000" stroke-width="1.2"/>
<text x="299.5" y="232.2" font-size="14.6" text-anchor="middle" textLength="7.4" lengthAdjust="spacingAndGlyphs">0</text>
<line x1="316.36" y1="214.3" x2="316.36" y2="219" stroke="#000" stroke-width="1.2"/>
<text x="316.36" y="232.2" font-size="14.6" text-anchor="middle" textLength="7.4" lengthAdjust="spacingAndGlyphs">1</text>
<line x1="333.22" y1="214.3" x2="333.22" y2="219" stroke="#000" stroke-width="1.2"/>
<text x="333.22" y="232.2" font-size="14.6" text-anchor="middle" textLength="7.4" lengthAdjust="spacingAndGlyphs">2</text>
<line x1="350.08" y1="214.3" x2="350.08" y2="219" stroke="#000" stroke-width="1.2"/>
<text x="350.08" y="232.2" font-size="14.6" text-anchor="middle" textLength="7.4" lengthAdjust="spacingAndGlyphs">3</text>
<line x1="366.94" y1="214.3" x2="366.94" y2="219" stroke="#000" stroke-width="1.2"/>
<text x="366.94" y="232.2" font-size="14.6" text-anchor="middle" textLength="7.4" lengthAdjust="spacingAndGlyphs">4</text>
<line x1="383.8" y1="214.3" x2="383.8" y2="219" stroke="#000" stroke-width="1.2"/>
<text x="383.8" y="232.2" font-size="14.6" text-anchor="middle" textLength="7.4" lengthAdjust="spacingAndGlyphs">5</text>
<line x1="400.65999999999997" y1="214.3" x2="400.65999999999997" y2="219" stroke="#000" stroke-width="1.2"/>
<text x="400.65999999999997" y="232.2" font-size="14.6" text-anchor="middle" textLength="7.4" lengthAdjust="spacingAndGlyphs">6</text>
<line x1="417.52" y1="214.3" x2="417.52" y2="219" stroke="#000" stroke-width="1.2"/>
<text x="417.52" y="232.2" font-size="14.6" text-anchor="middle" textLength="7.4" lengthAdjust="spacingAndGlyphs">7</text>
<line x1="434.38" y1="214.3" x2="434.38" y2="219" stroke="#000" stroke-width="1.2"/>
<text x="434.38" y="232.2" font-size="14.6" text-anchor="middle" textLength="7.4" lengthAdjust="spacingAndGlyphs">8</text>
<line x1="451.24" y1="214.3" x2="451.24" y2="219" stroke="#000" stroke-width="1.2"/>
<text x="451.24" y="232.2" font-size="14.6" text-anchor="middle" textLength="7.4" lengthAdjust="spacingAndGlyphs">9</text>
<line x1="468.1" y1="214.3" x2="468.1" y2="219" stroke="#000" stroke-width="1.2"/>
<text x="468.90000000000003" y="232.2" font-size="14.6" text-anchor="middle" textLength="15" lengthAdjust="spacingAndGlyphs">10</text>
<text x="392.4" y="245" font-size="14" text-anchor="middle" textLength="73.6" lengthAdjust="spacingAndGlyphs">Time (years)</text>
<text x="0" y="0" transform="translate(267.6,121.8) rotate(-90)" font-size="14" text-anchor="middle" textLength="131" lengthAdjust="spacingAndGlyphs">Percent Survival (%)</text>
<path d="M300.3,36.4 H302.4 V39.3 H304.5 V42.3 H306.6 V44.7 H308.7 V47.6 H310.8 V49.6 H312.9 V51.5 H314.8 V51.9 H316.6 V53.6 H318.5 V55.3 H320.4 V55.8 H322.1 V57.9 H323.7 V58.3 H325.4 V60.3 H327.1 V61.0 H328.8 V62.5 H330.4 V63.6 H332.1 V63.8 H333.8 V65.2 H335.5 V66.6 H337.4 V68.1 H339.2 V68.9 H341.1 V69.0 H343.0 V70.4 H344.9 V71.1 H346.8 V73.1 H348.7 V73.6 H350.6 V75.4 H352.4 V76.2 H354.2 V75.6 H356.0 V75.9 H357.7 V77.2 H359.5 V77.3 H361.3 V76.8 H363.1 V77.4 H365.0 V78.2 H366.9 V79.1 H368.8 V79.2 H370.7 V80.4 H372.5 V81.6 H374.4 V83.0 H376.2 V83.8 H378.0 V84.2 H387.0 V84.2 H388.7 V85.4 H390.3 V86.5 H392.0 V88.4 H393.6 V88.8 H395.2 V90.1 H396.8 V91.5 H398.4 V91.7 H400.0 V93.6 H401.6 V94.4 H403.3 V95.5 H404.9 V97.6 H406.6 V98.5 H408.3 V99.6 H409.9 V101.2 H411.6 V102.6 H413.7 V102.5 H415.8 V104.4 H417.9 V104.3 H420.4 V106.0 H422.3 V106.7 H424.3 V105.9 H426.2 V106.8 V109.3 H426.7 H463.1 V109.3 V115.6 H463.6 H468.1 V115.6" fill="none" stroke="#3d4ba3" stroke-width="1.1"/>
<path d="M300.3,36.4 H302.0 V37.5 H303.6 V39.0 H305.3 V40.2 H307.0 V41.2 H308.7 V43.1 H310.4 V45.9 H312.0 V46.5 H313.7 V49.0 H315.4 V50.3 H317.1 V51.8 H318.7 V51.7 H320.4 V52.8 H322.5 V55.8 H324.6 V59.1 H326.7 V61.6 H328.5 V63.7 H330.2 V65.5 H332.0 V67.4 H333.7 V68.0 H335.5 V70.4 H337.4 V71.7 H339.2 V73.9 H341.1 V76.2 H343.0 V77.9 H344.9 V78.4 H346.8 V79.8 H348.7 V80.0 H350.6 V80.6 H352.5 V81.9 H354.4 V83.2 H356.2 V84.6 H358.1 V86.7 H360.1 V89.2 H362.2 V91.9 H364.2 V93.5 H366.1 V93.4 H368.1 V95.2 H370.1 V95.0 H372.0 V95.5 H373.7 V100.8 H375.4 V106.8 H377.1 V108.3 H378.8 V108.9 H380.5 V110.0 H387.0 V110.0 H389.0 V111.0 H391.0 V113.9 H393.0 V115.0 H394.9 V115.5 H396.8 V116.6 H398.6 V116.1 H400.5 V117.2 H402.5 V120.0 H404.6 V121.6 H406.6 V123.6 H408.3 V123.9 H409.9 V125.2 H411.6 V126.1 H413.7 V126.8 H415.8 V126.3 H417.9 V126.9 V130.7 H418.4 H420.1 V131.5 H421.7 V131.4 H423.4 V131.7 H425.0 V131.0 H426.7 V131.2 H429.2 V134.4 H430.5 V140.7 H465.6 V140.7 V150.3 H466.4 H468.6 V150.3" fill="none" stroke="#ee2a24" stroke-width="1.1"/>
<path d="M432,108 V110.6 M437,108 V110.6 M441,108 V110.6 M445,108 V110.6 M449,108 V110.6 M452,108 V110.6 M455,108 V110.6 M458,108 V110.6 M461,108 V110.6 M466.5,114.3 V116.9 M465,115.6 H468.5" stroke="#3d4ba3" stroke-width="0.8" fill="none"/>
<path d="M446,139.4 V142 M449,139.4 V142 M452,139.4 V142 M455,139.4 V142 M459,139.4 V142 M463,139.4 V142 M467.5,149 V151.6 M466,150.3 H469.5" stroke="#ee2a24" stroke-width="0.8" fill="none"/>
<line x1="304.2" y1="166.6" x2="314.8" y2="166.6" stroke="#3d4ba3" stroke-width="1.2"/>
<line x1="309.6" y1="164.8" x2="309.6" y2="168.4" stroke="#3d4ba3" stroke-width="1.1"/>
<line x1="304.2" y1="181.6" x2="314.8" y2="181.6" stroke="#ee2a24" stroke-width="1.2"/>
<line x1="309.6" y1="179.8" x2="309.6" y2="183.4" stroke="#ee2a24" stroke-width="1.1"/>
<text x="317.4" y="169.6" font-size="14" textLength="118" lengthAdjust="spacingAndGlyphs">FUT8 Low (n = 301)</text>
<text x="317.4" y="185.4" font-size="14" textLength="121" lengthAdjust="spacingAndGlyphs">FUT8 High (n = 302)</text>
<text x="304.8" y="203.9" font-size="14" textLength="56.3" lengthAdjust="spacingAndGlyphs">P = 0.007</text>
<line x1="553.6" y1="38.74999999999999" x2="553.6" y2="214.2" stroke="#000" stroke-width="1.3"/>
<line x1="545.7" y1="213.6" x2="670" y2="213.6" stroke="#000" stroke-width="1.3"/>
<line x1="545.6" y1="178.75" x2="553.6" y2="178.75" stroke="#000" stroke-width="1.3"/>
<line x1="545.6" y1="143.89999999999998" x2="553.6" y2="143.89999999999998" stroke="#000" stroke-width="1.3"/>
<line x1="545.6" y1="109.04999999999998" x2="553.6" y2="109.04999999999998" stroke="#000" stroke-width="1.3"/>
<line x1="545.6" y1="74.19999999999999" x2="553.6" y2="74.19999999999999" stroke="#000" stroke-width="1.3"/>
<line x1="545.6" y1="39.349999999999994" x2="553.6" y2="39.349999999999994" stroke="#000" stroke-width="1.3"/>
<text x="544.1" y="216.79999999999998" font-size="14.3" text-anchor="end" textLength="18.5" lengthAdjust="spacingAndGlyphs">0.0</text>
<text x="544.1" y="183.45" font-size="14.3" text-anchor="end" textLength="18.5" lengthAdjust="spacingAndGlyphs">0.5</text>
<text x="544.1" y="148.59999999999997" font-size="14.3" text-anchor="end" textLength="18.5" lengthAdjust="spacingAndGlyphs">1.0</text>
<text x="544.1" y="113.74999999999999" font-size="14.3" text-anchor="end" textLength="18.5" lengthAdjust="spacingAndGlyphs">1.5</text>
<text x="544.1" y="78.89999999999999" font-size="14.3" text-anchor="end" textLength="18.5" lengthAdjust="spacingAndGlyphs">2.0</text>
<text x="544.1" y="44.05" font-size="14.3" text-anchor="end" textLength="18.5" lengthAdjust="spacingAndGlyphs">2.5</text>
<line x1="590.4" y1="213.6" x2="590.4" y2="218.8" stroke="#000" stroke-width="1.3"/>
<line x1="646.2" y1="213.6" x2="646.2" y2="218.8" stroke="#000" stroke-width="1.3"/>
<text x="591" y="232.7" font-size="14" text-anchor="middle" textLength="48" lengthAdjust="spacingAndGlyphs">Normal</text>
<text x="648.5" y="232.7" font-size="14" text-anchor="middle" textLength="42.5" lengthAdjust="spacingAndGlyphs">Tumor</text>
<text x="0" y="0" transform="translate(498.8,128.9) rotate(-90)" font-size="14.4" text-anchor="middle" textLength="90.5" lengthAdjust="spacingAndGlyphs">Relative FUT8</text>
<text x="0" y="0" transform="translate(516.8,126.7) rotate(-90)" font-size="14.4" text-anchor="middle" textLength="115.5" lengthAdjust="spacingAndGlyphs">protein expression</text>
<line x1="590.6" y1="48.3" x2="646.1" y2="48.3" stroke="#000" stroke-width="1.4"/>
<path d="M595.9,35.0 V45.2 M591.31,37.45 L600.49,42.75 M600.49,37.45 L591.31,42.75 M610.4,35.0 V45.2 M605.81,37.45 L614.99,42.75 M614.99,37.45 L605.81,42.75 M624.8,35.0 V45.2 M620.21,37.45 L629.39,42.75 M629.39,37.45 L620.21,42.75 M639.2,35.0 V45.2 M634.61,37.45 L643.79,42.75 M643.79,37.45 L634.61,42.75 " stroke="#000" stroke-width="2" fill="none"/>
<path d="M590.4,166.9 L646.2,65.8 M590.4,171.1 L646.2,88.1 M590.4,158.5 L646.2,123.7 M590.4,148.1 L646.2,141.1 M590.4,151.6 L646.2,148.8 M590.4,153.7 L646.2,136.2 M590.4,158.5 L646.2,187.8 M590.4,160.6 L646.2,138.3 M590.4,160.6 L646.2,171.8 M590.4,166.9 L646.2,145.3 M590.4,171.1 L646.2,153.0 M590.4,174.6 L646.2,191.3 M590.4,174.6 L646.2,141.1 M590.4,181.5 L646.2,148.8 M590.4,181.5 L646.2,159.2 M590.4,183.6 L646.2,155.1 M590.4,183.6 L646.2,178.1 M590.4,186.4 L646.2,153.0 M590.4,186.4 L646.2,167.6 M590.4,191.3 L646.2,159.2 M590.4,191.3 L646.2,163.4 M590.4,193.4 L646.2,155.1 M590.4,195.5 L646.2,167.6 M590.4,195.5 L646.2,175.3 M590.4,200.7 L646.2,163.4 M590.4,200.7 L646.2,171.8 M590.4,202.8 L646.2,175.3 M590.4,202.8 L646.2,178.1 M590.4,208.7 L646.2,187.8 M590.4,208.7 L646.2,191.3 " stroke="#000" stroke-width="1.15" fill="none"/>
<g fill="#fff" stroke="#3d4ba3" stroke-width="1.3"><circle cx="590.4" cy="166.9" r="2.9"/><circle cx="590.4" cy="171.1" r="2.9"/><circle cx="590.4" cy="158.5" r="2.9"/><circle cx="590.4" cy="148.1" r="2.9"/><circle cx="590.4" cy="151.6" r="2.9"/><circle cx="590.4" cy="153.7" r="2.9"/><circle cx="590.4" cy="158.5" r="2.9"/><circle cx="590.4" cy="160.6" r="2.9"/><circle cx="590.4" cy="160.6" r="2.9"/><circle cx="590.4" cy="166.9" r="2.9"/><circle cx="590.4" cy="171.1" r="2.9"/><circle cx="590.4" cy="174.6" r="2.9"/><circle cx="590.4" cy="174.6" r="2.9"/><circle cx="590.4" cy="181.5" r="2.9"/><circle cx="590.4" cy="181.5" r="2.9"/><circle cx="590.4" cy="183.6" r="2.9"/><circle cx="590.4" cy="183.6" r="2.9"/><circle cx="590.4" cy="186.4" r="2.9"/><circle cx="590.4" cy="186.4" r="2.9"/><circle cx="590.4" cy="191.3" r="2.9"/><circle cx="590.4" cy="191.3" r="2.9"/><circle cx="590.4" cy="193.4" r="2.9"/><circle cx="590.4" cy="195.5" r="2.9"/><circle cx="590.4" cy="195.5" r="2.9"/><circle cx="590.4" cy="200.7" r="2.9"/><circle cx="590.4" cy="200.7" r="2.9"/><circle cx="590.4" cy="202.8" r="2.9"/><circle cx="590.4" cy="202.8" r="2.9"/><circle cx="590.4" cy="208.7" r="2.9"/><circle cx="590.4" cy="208.7" r="2.9"/></g>
<g fill="#fff" stroke="#ee2a24" stroke-width="1.3"><rect x="643.3000000000001" y="62.9" width="5.8" height="5.8"/><rect x="643.3000000000001" y="85.2" width="5.8" height="5.8"/><rect x="643.3000000000001" y="120.8" width="5.8" height="5.8"/><rect x="643.3000000000001" y="138.2" width="5.8" height="5.8"/><rect x="643.3000000000001" y="145.9" width="5.8" height="5.8"/><rect x="643.3000000000001" y="133.3" width="5.8" height="5.8"/><rect x="643.3000000000001" y="184.9" width="5.8" height="5.8"/><rect x="643.3000000000001" y="135.4" width="5.8" height="5.8"/><rect x="643.3000000000001" y="168.9" width="5.8" height="5.8"/><rect x="643.3000000000001" y="142.4" width="5.8" height="5.8"/><rect x="643.3000000000001" y="150.1" width="5.8" height="5.8"/><rect x="643.3000000000001" y="188.4" width="5.8" height="5.8"/><rect x="643.3000000000001" y="138.2" width="5.8" height="5.8"/><rect x="643.3000000000001" y="145.9" width="5.8" height="5.8"/><rect x="643.3000000000001" y="156.3" width="5.8" height="5.8"/><rect x="643.3000000000001" y="152.2" width="5.8" height="5.8"/><rect x="643.3000000000001" y="175.2" width="5.8" height="5.8"/><rect x="643.3000000000001" y="150.1" width="5.8" height="5.8"/><rect x="643.3000000000001" y="164.7" width="5.8" height="5.8"/><rect x="643.3000000000001" y="156.3" width="5.8" height="5.8"/><rect x="643.3000000000001" y="160.5" width="5.8" height="5.8"/><rect x="643.3000000000001" y="152.2" width="5.8" height="5.8"/><rect x="643.3000000000001" y="164.7" width="5.8" height="5.8"/><rect x="643.3000000000001" y="172.4" width="5.8" height="5.8"/><rect x="643.3000000000001" y="160.5" width="5.8" height="5.8"/><rect x="643.3000000000001" y="168.9" width="5.8" height="5.8"/><rect x="643.3000000000001" y="172.4" width="5.8" height="5.8"/><rect x="643.3000000000001" y="175.2" width="5.8" height="5.8"/><rect x="643.3000000000001" y="184.9" width="5.8" height="5.8"/><rect x="643.3000000000001" y="188.4" width="5.8" height="5.8"/></g>
<defs><filter id="bb" x="-20%" y="-80%" width="140%" height="260%"><feGaussianBlur stdDeviation="1.5 1.0"/></filter><filter id="bb2" x="-25%" y="-100%" width="150%" height="300%"><feGaussianBlur stdDeviation="2.4 1.7"/></filter><filter id="bb3" x="-25%" y="-100%" width="150%" height="300%"><feGaussianBlur stdDeviation="3 2"/></filter><linearGradient id="g1" x1="0" x2="1" y1="0" y2="0"><stop offset="0" stop-color="#b0b0b0"/><stop offset="0.35" stop-color="#a2a2a2"/><stop offset="0.8" stop-color="#9c9c9c"/><stop offset="1" stop-color="#a8a8a8"/></linearGradient><linearGradient id="g2" x1="0" x2="1" y1="0" y2="0"><stop offset="0" stop-color="#a4a4a4"/><stop offset="0.3" stop-color="#acacac"/><stop offset="0.42" stop-color="#bcbcbc"/><stop offset="0.55" stop-color="#b0b0b0"/><stop offset="0.75" stop-color="#c0c0c0"/><stop offset="1" stop-color="#b4b4b4"/></linearGradient><linearGradient id="g3" x1="0" x2="1" y1="0" y2="0"><stop offset="0" stop-color="#e6e6e6"/><stop offset="0.5" stop-color="#eeeeee"/><stop offset="1" stop-color="#f4f4f4"/></linearGradient><linearGradient id="ga" x1="0" x2="0" y1="0" y2="1"><stop offset="0" stop-color="#e4e4e4"/><stop offset="0.25" stop-color="#fafafa"/><stop offset="1" stop-color="#fcfcfc"/></linearGradient></defs>
<text x="64.8" y="288.9" font-size="14.2" text-anchor="middle" textLength="18.0" lengthAdjust="spacingAndGlyphs">N1</text>
<text x="94.85" y="288.9" font-size="14.2" text-anchor="middle" textLength="15.9" lengthAdjust="spacingAndGlyphs">T1</text>
<text x="124.9" y="288.9" font-size="14.2" text-anchor="middle" textLength="18.0" lengthAdjust="spacingAndGlyphs">N2</text>
<text x="154.95" y="288.9" font-size="14.2" text-anchor="middle" textLength="15.9" lengthAdjust="spacingAndGlyphs">T2</text>
<text x="185.0" y="288.9" font-size="14.2" text-anchor="middle" textLength="18.0" lengthAdjust="spacingAndGlyphs">N3</text>
<text x="215.05" y="288.9" font-size="14.2" text-anchor="middle" textLength="15.9" lengthAdjust="spacingAndGlyphs">T3</text>
<text x="245.10000000000002" y="288.9" font-size="14.2" text-anchor="middle" textLength="18.0" lengthAdjust="spacingAndGlyphs">N4</text>
<text x="275.15" y="288.9" font-size="14.2" text-anchor="middle" textLength="15.9" lengthAdjust="spacingAndGlyphs">T4</text>
<text x="305.2" y="288.9" font-size="14.2" text-anchor="middle" textLength="18.0" lengthAdjust="spacingAndGlyphs">N5</text>
<text x="335.25" y="288.9" font-size="14.2" text-anchor="middle" textLength="15.9" lengthAdjust="spacingAndGlyphs">T5</text>
<text x="365.3" y="288.9" font-size="14.2" text-anchor="middle" textLength="18.0" lengthAdjust="spacingAndGlyphs">N6</text>
<text x="395.35" y="288.9" font-size="14.2" text-anchor="middle" textLength="15.9" lengthAdjust="spacingAndGlyphs">T6</text>
<clipPath id="cf0"><rect x="48.3" y="290.9" width="360.5" height="21.100000000000023"/></clipPath>
<rect x="48.3" y="290.9" width="360.5" height="21.100000000000023" fill="url(#g1)"/>
<g clip-path="url(#cf0)"><rect x="57.0" y="301.3" width="18.8" height="4.6" rx="3.1" ry="2.3" fill="#000" opacity="0.19" filter="url(#bb3)"/><rect x="86.4" y="299.9" width="21.6" height="8.2" rx="5.6" ry="4.1" fill="#000" opacity="0.40" filter="url(#bb3)"/><rect x="115.2" y="299.9" width="21.6" height="7.7" rx="5.2" ry="3.8" fill="#000" opacity="0.35" filter="url(#bb3)"/><rect x="145.7" y="299.4" width="21.6" height="9.3" rx="6.3" ry="4.7" fill="#000" opacity="0.40" filter="url(#bb3)"/><rect x="177.9" y="302.1" width="18.8" height="3.8" rx="2.6" ry="1.9" fill="#000" opacity="0.16" filter="url(#bb3)"/><rect x="204.8" y="301.9" width="18.8" height="6.3" rx="4.2" ry="3.1" fill="#000" opacity="0.95" filter="url(#bb3)"/><rect x="206.5" y="303.4" width="15.4" height="3.9" rx="2.6" ry="1.9" fill="#000" opacity="0.45" filter="url(#bb2)"/><rect x="207.5" y="303.8" width="13.4" height="3.1" rx="2.1" ry="1.5" fill="#000" opacity="0.45" filter="url(#bb)"/><rect x="206.2" y="293.3" width="16.6" height="3.8" rx="2.6" ry="1.9" fill="#000" opacity="0.79" filter="url(#bb3)"/><rect x="207.9" y="294.7" width="13.2" height="1.6" rx="1.1" ry="0.8" fill="#000" opacity="0.38" filter="url(#bb2)"/><rect x="233.6" y="303.2" width="17.4" height="3.0" rx="2.0" ry="1.5" fill="#000" opacity="0.08" filter="url(#bb3)"/><rect x="264.1" y="302.7" width="19.4" height="7.1" rx="4.8" ry="3.6" fill="#000" opacity="0.84" filter="url(#bb3)"/><rect x="265.8" y="304.2" width="16.0" height="4.7" rx="3.2" ry="2.4" fill="#000" opacity="0.40" filter="url(#bb2)"/><rect x="294.6" y="302.7" width="17.4" height="2.7" rx="1.8" ry="1.3" fill="#000" opacity="0.08" filter="url(#bb3)"/><rect x="323.8" y="300.5" width="20.2" height="7.1" rx="4.8" ry="3.6" fill="#000" opacity="0.53" filter="url(#bb3)"/><rect x="325.5" y="302.0" width="16.8" height="4.7" rx="3.2" ry="2.4" fill="#000" opacity="0.25" filter="url(#bb2)"/><rect x="354.3" y="300.5" width="17.4" height="3.0" rx="2.0" ry="1.5" fill="#000" opacity="0.08" filter="url(#bb3)"/><rect x="383.4" y="298.3" width="18.8" height="6.6" rx="4.4" ry="3.3" fill="#000" opacity="0.26" filter="url(#bb3)"/></g>
<rect x="48.3" y="290.9" width="360.5" height="21.100000000000023" fill="none" stroke="#1a1a1a" stroke-width="1.3"/>
<clipPath id="ca0"><rect x="48.3" y="315.3" width="360.5" height="21.5"/></clipPath>
<rect x="48.3" y="315.3" width="360.5" height="21.5" fill="url(#ga)"/>
<g clip-path="url(#ca0)"><rect x="50.5" y="321.9" width="26.4" height="5.3" rx="3.6" ry="2.7" fill="#000" opacity="0.47" filter="url(#bb2)"/><rect x="51.5" y="322.4" width="24.4" height="4.3" rx="2.9" ry="2.2" fill="#000" opacity="0.95" filter="url(#bb)"/><rect x="79.6" y="321.1" width="30.6" height="8.4" rx="5.6" ry="4.2" fill="#000" opacity="0.50" filter="url(#bb2)"/><rect x="80.6" y="321.6" width="28.6" height="7.4" rx="5.0" ry="3.7" fill="#000" opacity="1.00" filter="url(#bb)"/><rect x="109.6" y="322.5" width="28.3" height="6.1" rx="4.1" ry="3.1" fill="#000" opacity="0.47" filter="url(#bb2)"/><rect x="110.6" y="323.0" width="26.3" height="5.1" rx="3.5" ry="2.6" fill="#000" opacity="0.95" filter="url(#bb)"/><rect x="140.7" y="323.8" width="29.2" height="6.1" rx="4.1" ry="3.1" fill="#000" opacity="0.46" filter="url(#bb2)"/><rect x="141.7" y="324.3" width="27.2" height="5.1" rx="3.5" ry="2.6" fill="#000" opacity="0.92" filter="url(#bb)"/><rect x="170.4" y="325.8" width="27.2" height="3.6" rx="2.5" ry="1.8" fill="#000" opacity="0.35" filter="url(#bb2)"/><rect x="171.4" y="326.3" width="25.2" height="2.6" rx="1.8" ry="1.3" fill="#000" opacity="0.70" filter="url(#bb)"/><rect x="197.5" y="323.0" width="30.6" height="7.5" rx="5.1" ry="3.8" fill="#000" opacity="0.50" filter="url(#bb2)"/><rect x="198.5" y="323.5" width="28.6" height="6.5" rx="4.4" ry="3.3" fill="#000" opacity="1.00" filter="url(#bb)"/><rect x="227.7" y="323.8" width="29.2" height="6.1" rx="4.1" ry="3.1" fill="#000" opacity="0.47" filter="url(#bb2)"/><rect x="228.7" y="324.3" width="27.2" height="5.1" rx="3.5" ry="2.6" fill="#000" opacity="0.95" filter="url(#bb)"/><rect x="257.7" y="323.0" width="28.9" height="9.2" rx="6.2" ry="4.6" fill="#000" opacity="0.50" filter="url(#bb2)"/><rect x="258.7" y="323.5" width="26.9" height="8.2" rx="5.5" ry="4.1" fill="#000" opacity="1.00" filter="url(#bb)"/><rect x="288.2" y="326.3" width="26.1" height="3.4" rx="2.3" ry="1.7" fill="#000" opacity="0.23" filter="url(#bb2)"/><rect x="289.2" y="326.8" width="24.1" height="2.4" rx="1.6" ry="1.2" fill="#000" opacity="0.45" filter="url(#bb)"/><rect x="317.9" y="323.8" width="27.8" height="6.7" rx="4.5" ry="3.3" fill="#000" opacity="0.50" filter="url(#bb2)"/><rect x="318.9" y="324.3" width="25.8" height="5.7" rx="3.8" ry="2.8" fill="#000" opacity="1.00" filter="url(#bb)"/><rect x="345.6" y="325.8" width="26.4" height="4.2" rx="2.8" ry="2.1" fill="#000" opacity="0.42" filter="url(#bb2)"/><rect x="346.6" y="326.3" width="24.4" height="3.2" rx="2.2" ry="1.6" fill="#000" opacity="0.85" filter="url(#bb)"/><rect x="377.5" y="323.0" width="29.2" height="6.4" rx="4.3" ry="3.2" fill="#000" opacity="0.50" filter="url(#bb2)"/><rect x="378.5" y="323.5" width="27.2" height="5.4" rx="3.7" ry="2.7" fill="#000" opacity="1.00" filter="url(#bb)"/></g>
<rect x="48.3" y="315.3" width="360.5" height="21.5" fill="none" stroke="#1a1a1a" stroke-width="1.3"/>
<line x1="408.8" y1="298.6" x2="412.7" y2="298.6" stroke="#000" stroke-width="1.2"/>
<line x1="408.8" y1="322.9" x2="412.7" y2="322.9" stroke="#000" stroke-width="1.2"/>
<text x="416.6" y="303.5" font-size="14" textLength="16.5" lengthAdjust="spacingAndGlyphs">72</text>
<text x="416.6" y="327.79999999999995" font-size="14" textLength="16.5" lengthAdjust="spacingAndGlyphs">43</text>
<text x="44.6" y="307.79999999999995" font-size="14.4" text-anchor="end" textLength="37.6" lengthAdjust="spacingAndGlyphs">FUT8</text>
<text x="45.4" y="327.8" font-size="14.4" text-anchor="end" textLength="44.8" lengthAdjust="spacingAndGlyphs">β-actin</text>
<text x="65" y="352.5" font-size="14.2" text-anchor="middle" textLength="18.0" lengthAdjust="spacingAndGlyphs">N7</text>
<text x="95.6" y="352.5" font-size="14.2" text-anchor="middle" textLength="15.9" lengthAdjust="spacingAndGlyphs">T7</text>
<text x="126.2" y="352.5" font-size="14.2" text-anchor="middle" textLength="18.0" lengthAdjust="spacingAndGlyphs">N8</text>
<text x="156.6" y="352.5" font-size="14.2" text-anchor="middle" textLength="15.9" lengthAdjust="spacingAndGlyphs">T8</text>
<text x="186.9" y="352.5" font-size="14.2" text-anchor="middle" textLength="18.0" lengthAdjust="spacingAndGlyphs">N9</text>
<text x="216.5" y="352.5" font-size="14.2" text-anchor="middle" textLength="15.9" lengthAdjust="spacingAndGlyphs">T9</text>
<text x="246.9" y="352.5" font-size="14.2" text-anchor="middle" textLength="27.2" lengthAdjust="spacingAndGlyphs">N10</text>
<text x="274.3" y="352.5" font-size="14.2" text-anchor="middle" textLength="25.0" lengthAdjust="spacingAndGlyphs">T10</text>
<text x="305.7" y="352.5" font-size="14.2" text-anchor="middle" textLength="27.2" lengthAdjust="spacingAndGlyphs">N11</text>
<text x="334.6" y="352.5" font-size="14.2" text-anchor="middle" textLength="25.0" lengthAdjust="spacingAndGlyphs">T11</text>
<text x="366.1" y="352.5" font-size="14.2" text-anchor="middle" textLength="27.2" lengthAdjust="spacingAndGlyphs">N12</text>
<text x="398.5" y="352.5" font-size="14.2" text-anchor="middle" textLength="25.0" lengthAdjust="spacingAndGlyphs">T12</text>
<clipPath id="cf1"><rect x="48.3" y="355.1" width="360.5" height="20.69999999999999"/></clipPath>
<rect x="48.3" y="355.1" width="360.5" height="20.69999999999999" fill="url(#g2)"/>
<g clip-path="url(#cf1)"><rect x="56.4" y="364.5" width="18.8" height="4.9" rx="3.3" ry="2.5" fill="#000" opacity="0.21" filter="url(#bb3)"/><rect x="81.4" y="360.3" width="25.8" height="9.1" rx="6.1" ry="4.5" fill="#000" opacity="0.46" filter="url(#bb3)"/><rect x="114.6" y="365.9" width="19.4" height="6.3" rx="4.2" ry="3.1" fill="#000" opacity="0.53" filter="url(#bb3)"/><rect x="116.3" y="367.4" width="16.0" height="3.9" rx="2.6" ry="1.9" fill="#000" opacity="0.25" filter="url(#bb2)"/><rect x="146.5" y="365.0" width="20.2" height="8.0" rx="5.4" ry="4.0" fill="#000" opacity="1.00" filter="url(#bb3)"/><rect x="148.2" y="366.5" width="16.8" height="5.6" rx="3.7" ry="2.8" fill="#000" opacity="0.47" filter="url(#bb2)"/><rect x="149.2" y="366.9" width="14.8" height="4.8" rx="3.2" ry="2.4" fill="#000" opacity="0.47" filter="url(#bb)"/><rect x="148.5" y="357.8" width="17.7" height="3.5" rx="2.4" ry="1.8" fill="#000" opacity="0.84" filter="url(#bb3)"/><rect x="150.2" y="359.1" width="14.3" height="1.6" rx="1.1" ry="0.8" fill="#000" opacity="0.40" filter="url(#bb2)"/><rect x="175.7" y="367.2" width="18.8" height="3.0" rx="2.0" ry="1.5" fill="#000" opacity="0.06" filter="url(#bb3)"/><rect x="204.0" y="365.9" width="21.6" height="8.0" rx="5.4" ry="4.0" fill="#000" opacity="0.58" filter="url(#bb3)"/><rect x="205.7" y="367.4" width="18.2" height="5.6" rx="3.7" ry="2.8" fill="#000" opacity="0.28" filter="url(#bb2)"/><rect x="234.2" y="365.0" width="18.8" height="6.6" rx="4.4" ry="3.3" fill="#000" opacity="0.53" filter="url(#bb3)"/><rect x="235.9" y="366.5" width="15.4" height="4.2" rx="2.8" ry="2.1" fill="#000" opacity="0.25" filter="url(#bb2)"/><rect x="263.6" y="363.9" width="21.3" height="7.7" rx="5.2" ry="3.8" fill="#000" opacity="0.53" filter="url(#bb3)"/><rect x="265.3" y="365.4" width="17.9" height="5.3" rx="3.6" ry="2.6" fill="#000" opacity="0.25" filter="url(#bb2)"/><rect x="294.6" y="367.2" width="18.8" height="3.0" rx="2.0" ry="1.5" fill="#000" opacity="0.05" filter="url(#bb3)"/><rect x="323.8" y="367.2" width="20.2" height="5.7" rx="3.9" ry="2.9" fill="#000" opacity="0.29" filter="url(#bb3)"/><rect x="354.3" y="365.9" width="16.0" height="5.2" rx="3.5" ry="2.6" fill="#000" opacity="0.26" filter="url(#bb3)"/><rect x="383.4" y="363.1" width="21.6" height="7.1" rx="4.8" ry="3.6" fill="#000" opacity="0.53" filter="url(#bb3)"/><rect x="385.1" y="364.6" width="18.2" height="4.7" rx="3.2" ry="2.4" fill="#000" opacity="0.25" filter="url(#bb2)"/></g>
<rect x="48.3" y="355.1" width="360.5" height="20.69999999999999" fill="none" stroke="#1a1a1a" stroke-width="1.3"/>
<clipPath id="ca1"><rect x="48.3" y="379.2" width="360.5" height="21.5"/></clipPath>
<rect x="48.3" y="379.2" width="360.5" height="21.5" fill="url(#ga)"/>
<g clip-path="url(#ca1)"><rect x="49.1" y="385.9" width="33.3" height="5.3" rx="3.6" ry="2.7" fill="#000" opacity="0.50" filter="url(#bb2)"/><rect x="50.1" y="386.4" width="31.3" height="4.3" rx="2.9" ry="2.2" fill="#000" opacity="1.00" filter="url(#bb)"/><rect x="78.3" y="385.9" width="32.0" height="5.9" rx="4.0" ry="2.9" fill="#000" opacity="0.50" filter="url(#bb2)"/><rect x="79.3" y="386.4" width="30.0" height="4.9" rx="3.3" ry="2.4" fill="#000" opacity="1.00" filter="url(#bb)"/><rect x="110.2" y="387.8" width="26.4" height="5.6" rx="3.8" ry="2.8" fill="#000" opacity="0.47" filter="url(#bb2)"/><rect x="111.2" y="388.3" width="24.4" height="4.6" rx="3.1" ry="2.3" fill="#000" opacity="0.95" filter="url(#bb)"/><rect x="139.3" y="387.8" width="30.6" height="7.5" rx="5.1" ry="3.8" fill="#000" opacity="0.50" filter="url(#bb2)"/><rect x="140.3" y="388.3" width="28.6" height="6.5" rx="4.4" ry="3.3" fill="#000" opacity="1.00" filter="url(#bb)"/><rect x="168.4" y="389.2" width="30.6" height="4.7" rx="3.2" ry="2.4" fill="#000" opacity="0.47" filter="url(#bb2)"/><rect x="169.4" y="389.7" width="28.6" height="3.7" rx="2.5" ry="1.9" fill="#000" opacity="0.95" filter="url(#bb)"/><rect x="198.9" y="388.7" width="29.2" height="5.3" rx="3.6" ry="2.7" fill="#000" opacity="0.47" filter="url(#bb2)"/><rect x="199.9" y="389.2" width="27.2" height="4.3" rx="2.9" ry="2.2" fill="#000" opacity="0.95" filter="url(#bb)"/><rect x="227.7" y="386.5" width="30.6" height="7.5" rx="5.1" ry="3.8" fill="#000" opacity="0.50" filter="url(#bb2)"/><rect x="228.7" y="387.0" width="28.6" height="6.5" rx="4.4" ry="3.3" fill="#000" opacity="1.00" filter="url(#bb)"/><rect x="256.9" y="387.0" width="30.6" height="7.5" rx="5.1" ry="3.8" fill="#000" opacity="0.50" filter="url(#bb2)"/><rect x="257.9" y="387.5" width="28.6" height="6.5" rx="4.4" ry="3.3" fill="#000" opacity="1.00" filter="url(#bb)"/><rect x="284.6" y="388.7" width="30.6" height="5.3" rx="3.6" ry="2.7" fill="#000" opacity="0.47" filter="url(#bb2)"/><rect x="285.6" y="389.2" width="28.6" height="4.3" rx="2.9" ry="2.2" fill="#000" opacity="0.95" filter="url(#bb)"/><rect x="315.1" y="387.8" width="30.6" height="6.7" rx="4.5" ry="3.3" fill="#000" opacity="0.50" filter="url(#bb2)"/><rect x="316.1" y="388.3" width="28.6" height="5.7" rx="3.8" ry="2.8" fill="#000" opacity="1.00" filter="url(#bb)"/><rect x="345.6" y="387.8" width="29.2" height="4.7" rx="3.2" ry="2.4" fill="#000" opacity="0.47" filter="url(#bb2)"/><rect x="346.6" y="388.3" width="27.2" height="3.7" rx="2.5" ry="1.9" fill="#000" opacity="0.95" filter="url(#bb)"/><rect x="374.8" y="385.1" width="32.0" height="6.7" rx="4.5" ry="3.3" fill="#000" opacity="0.50" filter="url(#bb2)"/><rect x="375.8" y="385.6" width="30.0" height="5.7" rx="3.8" ry="2.8" fill="#000" opacity="1.00" filter="url(#bb)"/></g>
<rect x="48.3" y="379.2" width="360.5" height="21.5" fill="none" stroke="#1a1a1a" stroke-width="1.3"/>
<line x1="408.8" y1="360.8" x2="412.7" y2="360.8" stroke="#000" stroke-width="1.2"/>
<line x1="408.8" y1="386.4" x2="412.7" y2="386.4" stroke="#000" stroke-width="1.2"/>
<text x="416.6" y="365.7" font-size="14" textLength="16.5" lengthAdjust="spacingAndGlyphs">72</text>
<text x="416.6" y="391.29999999999995" font-size="14" textLength="16.5" lengthAdjust="spacingAndGlyphs">43</text>
<text x="44.6" y="373.40000000000003" font-size="14.4" text-anchor="end" textLength="37.6" lengthAdjust="spacingAndGlyphs">FUT8</text>
<text x="45.4" y="393.5" font-size="14.4" text-anchor="end" textLength="44.8" lengthAdjust="spacingAndGlyphs">β-actin</text>
<text x="66.5" y="414.6" font-size="14.2" text-anchor="middle" textLength="27.2" lengthAdjust="spacingAndGlyphs">N13</text>
<text x="96.4" y="414.6" font-size="14.2" text-anchor="middle" textLength="25.0" lengthAdjust="spacingAndGlyphs">T13</text>
<text x="126" y="414.6" font-size="14.2" text-anchor="middle" textLength="27.2" lengthAdjust="spacingAndGlyphs">N14</text>
<text x="156.2" y="414.6" font-size="14.2" text-anchor="middle" textLength="25.0" lengthAdjust="spacingAndGlyphs">T14</text>
<text x="186" y="414.6" font-size="14.2" text-anchor="middle" textLength="27.2" lengthAdjust="spacingAndGlyphs">N15</text>
<text x="215.9" y="414.6" font-size="14.2" text-anchor="middle" textLength="25.0" lengthAdjust="spacingAndGlyphs">T15</text>
<text x="246.2" y="414.6" font-size="14.2" text-anchor="middle" textLength="27.2" lengthAdjust="spacingAndGlyphs">N16</text>
<text x="276" y="414.6" font-size="14.2" text-anchor="middle" textLength="25.0" lengthAdjust="spacingAndGlyphs">T16</text>
<text x="305.7" y="414.6" font-size="14.2" text-anchor="middle" textLength="27.2" lengthAdjust="spacingAndGlyphs">N17</text>
<text x="336" y="414.6" font-size="14.2" text-anchor="middle" textLength="25.0" lengthAdjust="spacingAndGlyphs">T17</text>
<text x="366.3" y="414.6" font-size="14.2" text-anchor="middle" textLength="27.2" lengthAdjust="spacingAndGlyphs">N18</text>
<text x="397.4" y="414.6" font-size="14.2" text-anchor="middle" textLength="25.0" lengthAdjust="spacingAndGlyphs">T18</text>
<clipPath id="cf2"><rect x="48.3" y="418.0" width="360.5" height="22.399999999999977"/></clipPath>
<rect x="48.3" y="418.0" width="360.5" height="22.399999999999977" fill="url(#g3)"/>
<g clip-path="url(#cf2)"><rect x="52.1" y="427.7" width="23.2" height="6.1" rx="4.1" ry="3.1" fill="#000" opacity="0.25" filter="url(#bb2)"/><rect x="53.1" y="428.2" width="21.2" height="5.1" rx="3.5" ry="2.6" fill="#000" opacity="0.50" filter="url(#bb)"/><rect x="81.2" y="426.3" width="23.2" height="10.3" rx="6.9" ry="5.1" fill="#000" opacity="0.40" filter="url(#bb2)"/><rect x="82.2" y="426.8" width="21.2" height="9.3" rx="6.3" ry="4.6" fill="#000" opacity="0.80" filter="url(#bb)"/><rect x="111.9" y="430.2" width="18.8" height="2.4" rx="1.6" ry="1.2" fill="#000" opacity="0.13" filter="url(#bb2)"/><rect x="139.5" y="427.7" width="23.2" height="7.5" rx="5.1" ry="3.8" fill="#000" opacity="0.25" filter="url(#bb2)"/><rect x="140.5" y="428.2" width="21.2" height="6.5" rx="4.4" ry="3.3" fill="#000" opacity="0.50" filter="url(#bb)"/><rect x="170.0" y="428.5" width="23.2" height="7.5" rx="5.1" ry="3.8" fill="#000" opacity="0.35" filter="url(#bb2)"/><rect x="171.0" y="429.0" width="21.2" height="6.5" rx="4.4" ry="3.3" fill="#000" opacity="0.70" filter="url(#bb)"/><rect x="199.1" y="426.8" width="23.2" height="8.4" rx="5.6" ry="4.2" fill="#000" opacity="0.48" filter="url(#bb2)"/><rect x="200.1" y="427.3" width="21.2" height="7.4" rx="5.0" ry="3.7" fill="#000" opacity="0.97" filter="url(#bb)"/><rect x="228.0" y="427.7" width="21.8" height="6.1" rx="4.1" ry="3.1" fill="#000" opacity="0.28" filter="url(#bb2)"/><rect x="229.0" y="428.2" width="19.8" height="5.1" rx="3.5" ry="2.6" fill="#000" opacity="0.55" filter="url(#bb)"/><rect x="257.1" y="424.9" width="23.2" height="8.4" rx="5.6" ry="4.2" fill="#000" opacity="0.42" filter="url(#bb2)"/><rect x="258.1" y="425.4" width="21.2" height="7.4" rx="5.0" ry="3.7" fill="#000" opacity="0.85" filter="url(#bb)"/><rect x="286.2" y="426.8" width="23.2" height="7.5" rx="5.1" ry="3.8" fill="#000" opacity="0.35" filter="url(#bb2)"/><rect x="287.2" y="427.3" width="21.2" height="6.5" rx="4.4" ry="3.3" fill="#000" opacity="0.70" filter="url(#bb)"/><rect x="315.3" y="424.1" width="24.6" height="8.4" rx="5.6" ry="4.2" fill="#000" opacity="0.48" filter="url(#bb2)"/><rect x="316.3" y="424.6" width="22.6" height="7.4" rx="5.0" ry="3.7" fill="#000" opacity="0.97" filter="url(#bb)"/><rect x="344.5" y="423.5" width="24.6" height="8.1" rx="5.5" ry="4.0" fill="#000" opacity="0.48" filter="url(#bb2)"/><rect x="345.5" y="424.0" width="22.6" height="7.1" rx="4.8" ry="3.5" fill="#000" opacity="0.97" filter="url(#bb)"/><rect x="373.6" y="420.2" width="27.4" height="12.2" rx="8.3" ry="6.1" fill="#000" opacity="0.50" filter="url(#bb2)"/><rect x="374.6" y="420.7" width="25.4" height="11.2" rx="7.6" ry="5.6" fill="#000" opacity="1.00" filter="url(#bb)"/></g>
<rect x="48.3" y="418.0" width="360.5" height="22.399999999999977" fill="none" stroke="#1a1a1a" stroke-width="1.3"/>
<clipPath id="ca2"><rect x="48.3" y="443.1" width="360.5" height="21.599999999999966"/></clipPath>
<rect x="48.3" y="443.1" width="360.5" height="21.599999999999966" fill="url(#ga)"/>
<g clip-path="url(#ca2)"><rect x="51.3" y="451.2" width="26.2" height="5.3" rx="3.6" ry="2.7" fill="#000" opacity="0.47" filter="url(#bb2)"/><rect x="52.3" y="451.7" width="24.2" height="4.3" rx="2.9" ry="2.2" fill="#000" opacity="0.95" filter="url(#bb)"/><rect x="81.8" y="451.8" width="24.8" height="5.9" rx="4.0" ry="2.9" fill="#000" opacity="0.48" filter="url(#bb2)"/><rect x="82.8" y="452.3" width="22.8" height="4.9" rx="3.3" ry="2.4" fill="#000" opacity="0.97" filter="url(#bb)"/><rect x="111.0" y="453.5" width="24.8" height="3.1" rx="2.1" ry="1.5" fill="#000" opacity="0.30" filter="url(#bb2)"/><rect x="112.0" y="454.0" width="22.8" height="2.1" rx="1.4" ry="1.0" fill="#000" opacity="0.60" filter="url(#bb)"/><rect x="138.7" y="451.2" width="29.0" height="6.1" rx="4.1" ry="3.1" fill="#000" opacity="0.47" filter="url(#bb2)"/><rect x="139.7" y="451.7" width="27.0" height="5.1" rx="3.5" ry="2.6" fill="#000" opacity="0.95" filter="url(#bb)"/><rect x="169.2" y="451.8" width="27.6" height="4.7" rx="3.2" ry="2.4" fill="#000" opacity="0.46" filter="url(#bb2)"/><rect x="170.2" y="452.3" width="25.6" height="3.7" rx="2.5" ry="1.9" fill="#000" opacity="0.92" filter="url(#bb)"/><rect x="199.7" y="450.7" width="24.8" height="5.3" rx="3.6" ry="2.7" fill="#000" opacity="0.47" filter="url(#bb2)"/><rect x="200.7" y="451.2" width="22.8" height="4.3" rx="2.9" ry="2.2" fill="#000" opacity="0.95" filter="url(#bb)"/><rect x="225.8" y="451.2" width="29.0" height="5.3" rx="3.6" ry="2.7" fill="#000" opacity="0.46" filter="url(#bb2)"/><rect x="226.8" y="451.7" width="27.0" height="4.3" rx="2.9" ry="2.2" fill="#000" opacity="0.92" filter="url(#bb)"/><rect x="256.3" y="449.8" width="26.2" height="6.1" rx="4.1" ry="3.1" fill="#000" opacity="0.47" filter="url(#bb2)"/><rect x="257.3" y="450.3" width="24.2" height="5.1" rx="3.5" ry="2.6" fill="#000" opacity="0.95" filter="url(#bb)"/><rect x="285.4" y="451.2" width="26.2" height="7.0" rx="4.7" ry="3.5" fill="#000" opacity="0.45" filter="url(#bb2)"/><rect x="286.4" y="451.7" width="24.2" height="6.0" rx="4.0" ry="3.0" fill="#000" opacity="0.90" filter="url(#bb)"/><rect x="314.5" y="449.8" width="27.6" height="5.6" rx="3.8" ry="2.8" fill="#000" opacity="0.48" filter="url(#bb2)"/><rect x="315.5" y="450.3" width="25.6" height="4.6" rx="3.1" ry="2.3" fill="#000" opacity="0.97" filter="url(#bb)"/><rect x="343.7" y="449.8" width="29.0" height="4.7" rx="3.2" ry="2.4" fill="#000" opacity="0.47" filter="url(#bb2)"/><rect x="344.7" y="450.3" width="27.0" height="3.7" rx="2.5" ry="1.9" fill="#000" opacity="0.95" filter="url(#bb)"/><rect x="374.2" y="447.9" width="29.0" height="6.7" rx="4.5" ry="3.3" fill="#000" opacity="0.50" filter="url(#bb2)"/><rect x="375.2" y="448.4" width="27.0" height="5.7" rx="3.8" ry="2.8" fill="#000" opacity="1.00" filter="url(#bb)"/></g>
<rect x="48.3" y="443.1" width="360.5" height="21.599999999999966" fill="none" stroke="#1a1a1a" stroke-width="1.3"/>
<line x1="408.8" y1="424.1" x2="412.7" y2="424.1" stroke="#000" stroke-width="1.2"/>
<line x1="408.8" y1="450.5" x2="412.7" y2="450.5" stroke="#000" stroke-width="1.2"/>
<text x="416.6" y="429.0" font-size="14" textLength="16.5" lengthAdjust="spacingAndGlyphs">72</text>
<text x="416.6" y="455.4" font-size="14" textLength="16.5" lengthAdjust="spacingAndGlyphs">43</text>
<text x="44.6" y="435.8" font-size="14.4" text-anchor="end" textLength="37.6" lengthAdjust="spacingAndGlyphs">FUT8</text>
<text x="45.4" y="457.20000000000005" font-size="14.4" text-anchor="end" textLength="44.8" lengthAdjust="spacingAndGlyphs">β-actin</text>
<text x="66.5" y="479.2" font-size="14.2" text-anchor="middle" textLength="27.2" lengthAdjust="spacingAndGlyphs">N19</text>
<text x="96.4" y="479.2" font-size="14.2" text-anchor="middle" textLength="25.0" lengthAdjust="spacingAndGlyphs">T19</text>
<text x="126" y="479.2" font-size="14.2" text-anchor="middle" textLength="27.2" lengthAdjust="spacingAndGlyphs">N20</text>
<text x="156.2" y="479.2" font-size="14.2" text-anchor="middle" textLength="25.0" lengthAdjust="spacingAndGlyphs">T20</text>
<text x="186" y="479.2" font-size="14.2" text-anchor="middle" textLength="27.2" lengthAdjust="spacingAndGlyphs">N21</text>
<text x="215.9" y="479.2" font-size="14.2" text-anchor="middle" textLength="25.0" lengthAdjust="spacingAndGlyphs">T21</text>
<text x="246.2" y="479.2" font-size="14.2" text-anchor="middle" textLength="27.2" lengthAdjust="spacingAndGlyphs">N22</text>
<text x="276" y="479.2" font-size="14.2" text-anchor="middle" textLength="25.0" lengthAdjust="spacingAndGlyphs">T22</text>
<text x="305.7" y="479.2" font-size="14.2" text-anchor="middle" textLength="27.2" lengthAdjust="spacingAndGlyphs">N23</text>
<text x="336" y="479.2" font-size="14.2" text-anchor="middle" textLength="25.0" lengthAdjust="spacingAndGlyphs">T23</text>
<text x="366.3" y="479.2" font-size="14.2" text-anchor="middle" textLength="27.2" lengthAdjust="spacingAndGlyphs">N24</text>
<text x="397.4" y="479.2" font-size="14.2" text-anchor="middle" textLength="25.0" lengthAdjust="spacingAndGlyphs">T24</text>
<clipPath id="cf3"><rect x="48.3" y="482.1" width="360.5" height="22.19999999999999"/></clipPath>
<rect x="48.3" y="482.1" width="360.5" height="22.19999999999999" fill="url(#g3)"/>
<g clip-path="url(#cf3)"><rect x="55.0" y="493.6" width="18.8" height="2.2" rx="1.5" ry="1.1" fill="#000" opacity="0.21" filter="url(#bb2)"/><rect x="84.0" y="491.7" width="23.2" height="7.5" rx="5.1" ry="3.8" fill="#000" opacity="0.33" filter="url(#bb2)"/><rect x="85.0" y="492.2" width="21.2" height="6.5" rx="4.4" ry="3.3" fill="#000" opacity="0.65" filter="url(#bb)"/><rect x="116.0" y="495.0" width="17.4" height="2.2" rx="1.5" ry="1.1" fill="#000" opacity="0.21" filter="url(#bb2)"/><rect x="143.7" y="491.7" width="24.6" height="8.9" rx="6.0" ry="4.5" fill="#000" opacity="0.48" filter="url(#bb2)"/><rect x="144.7" y="492.2" width="22.6" height="7.9" rx="5.3" ry="4.0" fill="#000" opacity="0.97" filter="url(#bb)"/><rect x="175.7" y="493.6" width="17.4" height="3.5" rx="2.4" ry="1.8" fill="#000" opacity="0.27" filter="url(#bb2)"/><rect x="203.3" y="490.3" width="21.8" height="7.5" rx="5.1" ry="3.8" fill="#000" opacity="0.38" filter="url(#bb2)"/><rect x="204.3" y="490.8" width="19.8" height="6.5" rx="4.4" ry="3.3" fill="#000" opacity="0.75" filter="url(#bb)"/><rect x="233.6" y="493.6" width="18.8" height="2.2" rx="1.5" ry="1.1" fill="#000" opacity="0.13" filter="url(#bb2)"/><rect x="262.6" y="491.7" width="23.2" height="6.1" rx="4.1" ry="3.1" fill="#000" opacity="0.38" filter="url(#bb2)"/><rect x="263.6" y="492.2" width="21.2" height="5.1" rx="3.5" ry="2.6" fill="#000" opacity="0.75" filter="url(#bb)"/><rect x="291.8" y="492.5" width="23.2" height="4.7" rx="3.2" ry="2.4" fill="#000" opacity="0.23" filter="url(#bb2)"/><rect x="292.8" y="493.0" width="21.2" height="3.7" rx="2.5" ry="1.9" fill="#000" opacity="0.45" filter="url(#bb)"/><rect x="319.5" y="487.5" width="26.0" height="10.3" rx="6.9" ry="5.1" fill="#000" opacity="0.50" filter="url(#bb2)"/><rect x="320.5" y="488.0" width="24.0" height="9.3" rx="6.3" ry="4.6" fill="#000" opacity="1.00" filter="url(#bb)"/><rect x="351.4" y="490.3" width="21.8" height="5.3" rx="3.6" ry="2.7" fill="#000" opacity="0.25" filter="url(#bb2)"/><rect x="352.4" y="490.8" width="19.8" height="4.3" rx="2.9" ry="2.2" fill="#000" opacity="0.50" filter="url(#bb)"/><rect x="380.5" y="488.1" width="24.6" height="9.2" rx="6.2" ry="4.6" fill="#000" opacity="0.50" filter="url(#bb2)"/><rect x="381.5" y="488.6" width="22.6" height="8.2" rx="5.5" ry="4.1" fill="#000" opacity="1.00" filter="url(#bb)"/></g>
<rect x="48.3" y="482.1" width="360.5" height="22.19999999999999" fill="none" stroke="#1a1a1a" stroke-width="1.3"/>
<clipPath id="ca3"><rect x="48.3" y="507.1" width="360.5" height="21.699999999999932"/></clipPath>
<rect x="48.3" y="507.1" width="360.5" height="21.699999999999932" fill="url(#ga)"/>
<g clip-path="url(#ca3)"><rect x="51.3" y="514.7" width="29.0" height="5.9" rx="4.0" ry="2.9" fill="#000" opacity="0.50" filter="url(#bb2)"/><rect x="52.3" y="515.2" width="27.0" height="4.9" rx="3.3" ry="2.4" fill="#000" opacity="1.00" filter="url(#bb)"/><rect x="81.8" y="514.7" width="27.6" height="5.9" rx="4.0" ry="2.9" fill="#000" opacity="0.50" filter="url(#bb2)"/><rect x="82.8" y="515.2" width="25.6" height="4.9" rx="3.3" ry="2.4" fill="#000" opacity="1.00" filter="url(#bb)"/><rect x="112.3" y="515.8" width="24.8" height="4.7" rx="3.2" ry="2.4" fill="#000" opacity="0.47" filter="url(#bb2)"/><rect x="113.3" y="516.3" width="22.8" height="3.7" rx="2.5" ry="1.9" fill="#000" opacity="0.95" filter="url(#bb)"/><rect x="140.1" y="514.7" width="30.4" height="7.5" rx="5.1" ry="3.8" fill="#000" opacity="0.50" filter="url(#bb2)"/><rect x="141.1" y="515.2" width="28.4" height="6.5" rx="4.4" ry="3.3" fill="#000" opacity="1.00" filter="url(#bb)"/><rect x="170.6" y="515.8" width="27.6" height="5.6" rx="3.8" ry="2.8" fill="#000" opacity="0.48" filter="url(#bb2)"/><rect x="171.6" y="516.3" width="25.6" height="4.6" rx="3.1" ry="2.3" fill="#000" opacity="0.97" filter="url(#bb)"/><rect x="199.7" y="514.7" width="27.6" height="6.7" rx="4.5" ry="3.3" fill="#000" opacity="0.50" filter="url(#bb2)"/><rect x="200.7" y="515.2" width="25.6" height="5.7" rx="3.8" ry="2.8" fill="#000" opacity="1.00" filter="url(#bb)"/><rect x="228.5" y="515.2" width="27.6" height="6.1" rx="4.1" ry="3.1" fill="#000" opacity="0.47" filter="url(#bb2)"/><rect x="229.5" y="515.7" width="25.6" height="5.1" rx="3.5" ry="2.6" fill="#000" opacity="0.95" filter="url(#bb)"/><rect x="259.1" y="515.8" width="26.2" height="4.7" rx="3.2" ry="2.4" fill="#000" opacity="0.46" filter="url(#bb2)"/><rect x="260.1" y="516.3" width="24.2" height="3.7" rx="2.5" ry="1.9" fill="#000" opacity="0.92" filter="url(#bb)"/><rect x="286.8" y="515.2" width="27.6" height="7.0" rx="4.7" ry="3.5" fill="#000" opacity="0.48" filter="url(#bb2)"/><rect x="287.8" y="515.7" width="25.6" height="6.0" rx="4.0" ry="3.0" fill="#000" opacity="0.97" filter="url(#bb)"/><rect x="315.9" y="515.2" width="30.4" height="8.1" rx="5.5" ry="4.0" fill="#000" opacity="0.50" filter="url(#bb2)"/><rect x="316.9" y="515.7" width="28.4" height="7.1" rx="4.8" ry="3.5" fill="#000" opacity="1.00" filter="url(#bb)"/><rect x="345.1" y="514.7" width="29.0" height="5.9" rx="4.0" ry="2.9" fill="#000" opacity="0.50" filter="url(#bb2)"/><rect x="346.1" y="515.2" width="27.0" height="4.9" rx="3.3" ry="2.4" fill="#000" opacity="1.00" filter="url(#bb)"/><rect x="375.6" y="513.8" width="29.0" height="6.1" rx="4.1" ry="3.1" fill="#000" opacity="0.50" filter="url(#bb2)"/><rect x="376.6" y="514.3" width="27.0" height="5.1" rx="3.5" ry="2.6" fill="#000" opacity="1.00" filter="url(#bb)"/></g>
<rect x="48.3" y="507.1" width="360.5" height="21.699999999999932" fill="none" stroke="#1a1a1a" stroke-width="1.3"/>
<line x1="408.8" y1="486.5" x2="412.7" y2="486.5" stroke="#000" stroke-width="1.2"/>
<line x1="408.8" y1="515.8" x2="412.7" y2="515.8" stroke="#000" stroke-width="1.2"/>
<text x="416.6" y="491.4" font-size="14" textLength="16.5" lengthAdjust="spacingAndGlyphs">72</text>
<text x="416.6" y="520.6999999999999" font-size="14" textLength="16.5" lengthAdjust="spacingAndGlyphs">43</text>
<text x="44.6" y="500.5" font-size="14.4" text-anchor="end" textLength="37.6" lengthAdjust="spacingAndGlyphs">FUT8</text>
<text x="45.4" y="521.5" font-size="14.4" text-anchor="end" textLength="44.8" lengthAdjust="spacingAndGlyphs">β-actin</text>
<text x="66.5" y="543.5" font-size="14.2" text-anchor="middle" textLength="27.2" lengthAdjust="spacingAndGlyphs">N25</text>
<text x="96.4" y="543.5" font-size="14.2" text-anchor="middle" textLength="25.0" lengthAdjust="spacingAndGlyphs">T25</text>
<text x="126" y="543.5" font-size="14.2" text-anchor="middle" textLength="27.2" lengthAdjust="spacingAndGlyphs">N26</text>
<text x="156.2" y="543.5" font-size="14.2" text-anchor="middle" textLength="25.0" lengthAdjust="spacingAndGlyphs">T26</text>
<text x="186" y="543.5" font-size="14.2" text-anchor="middle" textLength="27.2" lengthAdjust="spacingAndGlyphs">N27</text>
<text x="215.9" y="543.5" font-size="14.2" text-anchor="middle" textLength="25.0" lengthAdjust="spacingAndGlyphs">T27</text>
<text x="246.2" y="543.5" font-size="14.2" text-anchor="middle" textLength="27.2" lengthAdjust="spacingAndGlyphs">N28</text>
<text x="276" y="543.5" font-size="14.2" text-anchor="middle" textLength="25.0" lengthAdjust="spacingAndGlyphs">T28</text>
<text x="305.7" y="543.5" font-size="14.2" text-anchor="middle" textLength="27.2" lengthAdjust="spacingAndGlyphs">N29</text>
<text x="336" y="543.5" font-size="14.2" text-anchor="middle" textLength="25.0" lengthAdjust="spacingAndGlyphs">T29</text>
<text x="366.3" y="543.5" font-size="14.2" text-anchor="middle" textLength="27.2" lengthAdjust="spacingAndGlyphs">N30</text>
<text x="397.4" y="543.5" font-size="14.2" text-anchor="middle" textLength="25.0" lengthAdjust="spacingAndGlyphs">T30</text>
<clipPath id="cf4"><rect x="48.3" y="546.2" width="360.5" height="22.199999999999932"/></clipPath>
<rect x="48.3" y="546.2" width="360.5" height="22.199999999999932" fill="url(#g3)"/>
<g clip-path="url(#cf4)"><rect x="53.6" y="557.1" width="18.8" height="4.1" rx="2.8" ry="2.1" fill="#000" opacity="0.38" filter="url(#bb2)"/><rect x="81.2" y="555.7" width="24.6" height="9.5" rx="6.4" ry="4.7" fill="#000" opacity="0.50" filter="url(#bb2)"/><rect x="82.2" y="556.2" width="22.6" height="8.5" rx="5.7" ry="4.2" fill="#000" opacity="1.00" filter="url(#bb)"/><rect x="113.3" y="558.2" width="18.8" height="2.4" rx="1.6" ry="1.2" fill="#000" opacity="0.11" filter="url(#bb2)"/><rect x="142.4" y="557.6" width="18.8" height="4.9" rx="3.3" ry="2.5" fill="#000" opacity="0.38" filter="url(#bb2)"/><rect x="172.9" y="557.6" width="18.8" height="3.5" rx="2.4" ry="1.8" fill="#000" opacity="0.21" filter="url(#bb2)"/><rect x="200.5" y="553.7" width="24.6" height="12.2" rx="8.3" ry="6.1" fill="#000" opacity="0.50" filter="url(#bb2)"/><rect x="201.5" y="554.2" width="22.6" height="11.2" rx="7.6" ry="5.6" fill="#000" opacity="1.00" filter="url(#bb)"/><rect x="232.2" y="558.2" width="20.2" height="4.4" rx="3.0" ry="2.2" fill="#000" opacity="0.38" filter="url(#bb2)"/><rect x="261.2" y="555.7" width="23.2" height="7.5" rx="5.1" ry="3.8" fill="#000" opacity="0.23" filter="url(#bb2)"/><rect x="262.2" y="556.2" width="21.2" height="6.5" rx="4.4" ry="3.3" fill="#000" opacity="0.45" filter="url(#bb)"/><rect x="293.3" y="557.6" width="18.8" height="3.0" rx="2.0" ry="1.5" fill="#000" opacity="0.18" filter="url(#bb2)"/><rect x="320.9" y="557.0" width="21.8" height="7.0" rx="4.7" ry="3.5" fill="#000" opacity="0.25" filter="url(#bb2)"/><rect x="321.9" y="557.5" width="19.8" height="6.0" rx="4.0" ry="3.0" fill="#000" opacity="0.50" filter="url(#bb)"/><rect x="351.5" y="556.3" width="20.2" height="3.5" rx="2.4" ry="1.8" fill="#000" opacity="0.38" filter="url(#bb2)"/><rect x="383.4" y="556.3" width="17.4" height="2.2" rx="1.5" ry="1.1" fill="#000" opacity="0.15" filter="url(#bb2)"/></g>
<rect x="48.3" y="546.2" width="360.5" height="22.199999999999932" fill="none" stroke="#1a1a1a" stroke-width="1.3"/>
<clipPath id="ca4"><rect x="48.3" y="571.2" width="360.5" height="21.59999999999991"/></clipPath>
<rect x="48.3" y="571.2" width="360.5" height="21.59999999999991" fill="url(#ga)"/>
<g clip-path="url(#ca4)"><rect x="52.7" y="580.6" width="31.7" height="4.7" rx="3.2" ry="2.4" fill="#000" opacity="0.47" filter="url(#bb2)"/><rect x="53.7" y="581.1" width="29.7" height="3.7" rx="2.5" ry="1.9" fill="#000" opacity="0.95" filter="url(#bb)"/><rect x="84.6" y="580.6" width="29.0" height="5.6" rx="3.8" ry="2.8" fill="#000" opacity="0.48" filter="url(#bb2)"/><rect x="85.6" y="581.1" width="27.0" height="4.6" rx="3.1" ry="2.3" fill="#000" opacity="0.97" filter="url(#bb)"/><rect x="115.1" y="582.0" width="23.4" height="4.2" rx="2.8" ry="2.1" fill="#000" opacity="0.45" filter="url(#bb2)"/><rect x="116.1" y="582.5" width="21.4" height="3.2" rx="2.2" ry="1.6" fill="#000" opacity="0.90" filter="url(#bb)"/><rect x="142.9" y="581.5" width="29.0" height="5.9" rx="4.0" ry="2.9" fill="#000" opacity="0.48" filter="url(#bb2)"/><rect x="143.9" y="582.0" width="27.0" height="4.9" rx="3.3" ry="2.4" fill="#000" opacity="0.97" filter="url(#bb)"/><rect x="173.4" y="582.0" width="24.8" height="4.2" rx="2.8" ry="2.1" fill="#000" opacity="0.45" filter="url(#bb2)"/><rect x="174.4" y="582.5" width="22.8" height="3.2" rx="2.2" ry="1.6" fill="#000" opacity="0.90" filter="url(#bb)"/><rect x="203.9" y="580.6" width="23.4" height="4.7" rx="3.2" ry="2.4" fill="#000" opacity="0.46" filter="url(#bb2)"/><rect x="204.9" y="581.1" width="21.4" height="3.7" rx="2.5" ry="1.9" fill="#000" opacity="0.92" filter="url(#bb)"/><rect x="229.9" y="581.5" width="26.2" height="3.9" rx="2.6" ry="2.0" fill="#000" opacity="0.45" filter="url(#bb2)"/><rect x="230.9" y="582.0" width="24.2" height="2.9" rx="2.0" ry="1.5" fill="#000" opacity="0.90" filter="url(#bb)"/><rect x="260.4" y="580.6" width="26.2" height="4.7" rx="3.2" ry="2.4" fill="#000" opacity="0.47" filter="url(#bb2)"/><rect x="261.4" y="581.1" width="24.2" height="3.7" rx="2.5" ry="1.9" fill="#000" opacity="0.95" filter="url(#bb)"/><rect x="289.6" y="581.5" width="26.2" height="4.7" rx="3.2" ry="2.4" fill="#000" opacity="0.45" filter="url(#bb2)"/><rect x="290.6" y="582.0" width="24.2" height="3.7" rx="2.5" ry="1.9" fill="#000" opacity="0.90" filter="url(#bb)"/><rect x="317.3" y="579.2" width="27.6" height="6.1" rx="4.1" ry="3.1" fill="#000" opacity="0.47" filter="url(#bb2)"/><rect x="318.3" y="579.7" width="25.6" height="5.1" rx="3.5" ry="2.6" fill="#000" opacity="0.95" filter="url(#bb)"/><rect x="346.4" y="581.5" width="24.8" height="4.7" rx="3.2" ry="2.4" fill="#000" opacity="0.42" filter="url(#bb2)"/><rect x="347.4" y="582.0" width="22.8" height="3.7" rx="2.5" ry="1.9" fill="#000" opacity="0.85" filter="url(#bb)"/><rect x="377.0" y="579.8" width="27.6" height="5.6" rx="3.8" ry="2.8" fill="#000" opacity="0.47" filter="url(#bb2)"/><rect x="378.0" y="580.3" width="25.6" height="4.6" rx="3.1" ry="2.3" fill="#000" opacity="0.95" filter="url(#bb)"/></g>
<rect x="48.3" y="571.2" width="360.5" height="21.59999999999991" fill="none" stroke="#1a1a1a" stroke-width="1.3"/>
<line x1="408.8" y1="553.7" x2="412.7" y2="553.7" stroke="#000" stroke-width="1.2"/>
<line x1="408.8" y1="581.7" x2="412.7" y2="581.7" stroke="#000" stroke-width="1.2"/>
<text x="416.6" y="558.6" font-size="14" textLength="16.5" lengthAdjust="spacingAndGlyphs">72</text>
<text x="416.6" y="586.6" font-size="14" textLength="16.5" lengthAdjust="spacingAndGlyphs">43</text>
<text x="44.6" y="563.2" font-size="14.4" text-anchor="end" textLength="37.6" lengthAdjust="spacingAndGlyphs">FUT8</text>
<text x="45.4" y="583.7" font-size="14.4" text-anchor="end" textLength="44.8" lengthAdjust="spacingAndGlyphs">β-actin</text>
<text x="416.2" y="288.2" font-size="14.2" textLength="26.3" lengthAdjust="spacingAndGlyphs">kDa</text>
<text x="114.2" y="609.1" font-size="14.2" textLength="231" lengthAdjust="spacingAndGlyphs">N: normal tissues; T: tumor tissues</text>
<text x="529.2" y="285.7" font-size="14.2" text-anchor="middle" textLength="47.7" lengthAdjust="spacingAndGlyphs">Normal</text>
<text x="635.3" y="285.7" font-size="14.2" text-anchor="middle" textLength="41" lengthAdjust="spacingAndGlyphs">Tumor</text>
<text x="0" y="0" transform="translate(472.9,342.1) rotate(-90)" font-size="14.2" text-anchor="middle" textLength="62.5" lengthAdjust="spacingAndGlyphs">Patient #4</text>
<text x="0" y="0" transform="translate(472.9,445.7) rotate(-90)" font-size="14.2" text-anchor="middle" textLength="62.5" lengthAdjust="spacingAndGlyphs">Patient #7</text>
<text x="0" y="0" transform="translate(472.9,546.3499999999999) rotate(-90)" font-size="14.2" text-anchor="middle" textLength="62.5" lengthAdjust="spacingAndGlyphs">Patient #9</text>
<defs><filter id="nb" x="-30%" y="-30%" width="160%" height="160%"><feGaussianBlur stdDeviation="0.85"/></filter><filter id="nb2" x="-30%" y="-30%" width="160%" height="160%"><feGaussianBlur stdDeviation="1.6"/></filter><filter id="nbl" x="-30%" y="-30%" width="160%" height="160%"><feGaussianBlur stdDeviation="1.1"/></filter><filter id="nbs" x="-30%" y="-30%" width="160%" height="160%"><feGaussianBlur stdDeviation="0.6"/></filter><filter id="nb3" x="-30%" y="-30%" width="160%" height="160%"><feGaussianBlur stdDeviation="3.5"/></filter><filter id="tx4" x="0" y="0" width="100%" height="100%" color-interpolation-filters="sRGB"><feTurbulence type="fractalNoise" baseFrequency="0.14" numOctaves="3" seed="4"/><feColorMatrix type="matrix" values="1.7 0 0 0 -0.35  1.7 0 0 0 -0.35  1.7 0 0 0 -0.35  0 0 0 0 1"/><feComponentTransfer><feFuncR type="table" tableValues="0.68 0.76 0.83 0.89 0.94"/><feFuncG type="table" tableValues="0.56 0.66 0.74 0.82 0.90"/><feFuncB type="table" tableValues="0.32 0.42 0.53 0.65 0.79"/></feComponentTransfer><feGaussianBlur stdDeviation="0.5"/></filter><filter id="tx7" x="0" y="0" width="100%" height="100%" color-interpolation-filters="sRGB"><feTurbulence type="fractalNoise" baseFrequency="0.12" numOctaves="3" seed="11"/><feColorMatrix type="matrix" values="1.5 0 0 0 -0.25  1.5 0 0 0 -0.25  1.5 0 0 0 -0.25  0 0 0 0 1"/><feComponentTransfer><feFuncR type="table" tableValues="0.74 0.81 0.87 0.92 0.95"/><feFuncG type="table" tableValues="0.65 0.73 0.81 0.87 0.92"/><feFuncB type="table" tableValues="0.44 0.55 0.66 0.76 0.84"/></feComponentTransfer><feGaussianBlur stdDeviation="0.5"/></filter><filter id="tx9" x="0" y="0" width="100%" height="100%" color-interpolation-filters="sRGB"><feTurbulence type="fractalNoise" baseFrequency="0.12" numOctaves="3" seed="23"/><feColorMatrix type="matrix" values="1.5 0 0 0 -0.25  1.5 0 0 0 -0.25  1.5 0 0 0 -0.25  0 0 0 0 1"/><feComponentTransfer><feFuncR type="table" tableValues="0.70 0.78 0.85 0.90 0.95"/><feFuncG type="table" tableValues="0.59 0.69 0.77 0.84 0.91"/><feFuncB type="table" tableValues="0.36 0.47 0.58 0.69 0.81"/></feComponentTransfer><feGaussianBlur stdDeviation="0.5"/></filter><filter id="web" x="0" y="0" width="100%" height="100%" color-interpolation-filters="sRGB"><feTurbulence type="turbulence" baseFrequency="0.085" numOctaves="2" seed="7"/><feColorMatrix type="matrix" values="0 0 0 0 0.58  0 0 0 0 0.44  0 0 0 0 0.20  -5 0 0 0 1.0"/><feGaussianBlur stdDeviation="0.55"/></filter><filter id="web2" x="0" y="0" width="100%" height="100%" color-interpolation-filters="sRGB"><feTurbulence type="turbulence" baseFrequency="0.07" numOctaves="2" seed="13"/><feColorMatrix type="matrix" values="0 0 0 0 0.62  0 0 0 0 0.48  0 0 0 0 0.24  -5 0 0 0 0.9"/><feGaussianBlur stdDeviation="0.6"/></filter><filter id="grain" x="0" y="0" width="100%" height="100%" color-interpolation-filters="sRGB"><feTurbulence type="fractalNoise" baseFrequency="0.3" numOctaves="2" seed="5"/><feColorMatrix type="matrix" values="0 0 0 0 0.35  0 0 0 0 0.26  0 0 0 0 0.10  2.2 0 0 0 -0.85"/><feGaussianBlur stdDeviation="0.4"/></filter><filter id="grainl" x="0" y="0" width="100%" height="100%" color-interpolation-filters="sRGB"><feTurbulence type="fractalNoise" baseFrequency="0.3" numOctaves="2" seed="9"/><feColorMatrix type="matrix" values="0 0 0 0 0.98  0 0 0 0 0.95  0 0 0 0 0.86  2.2 0 0 0 -0.85"/><feGaussianBlur stdDeviation="0.4"/></filter><filter id="txn" x="0" y="0" width="100%" height="100%" color-interpolation-filters="sRGB"><feTurbulence type="fractalNoise" baseFrequency="0.09" numOctaves="3" seed="2"/><feColorMatrix type="matrix" values="0 0 0 0 0.62  0 0 0 0 0.52  0 0 0 0 0.3  1.0 0 0 0 -0.42"/></filter></defs>
<clipPath id="ce00"><rect x="476.5" y="292.2" width="101.79999999999995" height="95.80000000000001"/></clipPath>
<g clip-path="url(#ce00)"><rect x="476.5" y="292.2" width="101.79999999999995" height="95.80000000000001" fill="#f2f1e9"/>
<rect x="476.5" y="292.2" width="101.79999999999995" height="95.80000000000001" filter="url(#txn)" opacity="0.18"/>
<g filter="url(#nb3)"><ellipse cx="523.5" cy="343.5" rx="42.9" ry="11.6" fill="#ece6d4" opacity="0.7" transform="rotate(28 523.5 343.5)"/><ellipse cx="566.5" cy="343.5" rx="19.8" ry="18.2" fill="#ede7d6" opacity="0.7"/><ellipse cx="515.3" cy="307.2" rx="14.9" ry="18.2" fill="#efead9" opacity="0.6"/><ellipse cx="566.5" cy="302.2" rx="8.3" ry="14.9" fill="#e9dfc6" opacity="0.75"/><ellipse cx="493.8" cy="358.4" rx="23.1" ry="5.0" fill="#ece5d0" opacity="0.6" transform="rotate(25 493.8 358.4)"/></g>
<g filter="url(#nb2)"><ellipse cx="543.4" cy="310.5" rx="12.4" ry="21.5" fill="#f7f6ef"/><ellipse cx="545.0" cy="298.9" rx="14.9" ry="9.9" fill="#f7f6ef"/></g>
<g filter="url(#nb)"><ellipse cx="501.2" cy="296.4" rx="4.8" ry="2.6" fill="#a08860" transform="rotate(-30 501.2 296.4)"/><ellipse cx="513.6" cy="303.0" rx="2.2" ry="5.9" fill="#babbce" transform="rotate(5 513.6 303.0)"/><ellipse cx="522.2" cy="297.3" rx="1.8" ry="4.8" fill="#babbce"/><ellipse cx="509.5" cy="315.4" rx="2.4" ry="4.4" fill="#babbce"/><ellipse cx="527.2" cy="312.9" rx="2.2" ry="7.1" fill="#b5a888" transform="rotate(-8 527.2 312.9)"/><ellipse cx="511.2" cy="329.5" rx="2.6" ry="3.4" fill="#6e5838"/><ellipse cx="502.1" cy="338.5" rx="2.4" ry="2.4" fill="#6d4d26"/><ellipse cx="484.2" cy="327.8" rx="3.6" ry="2.6" fill="#a89472"/><ellipse cx="480.6" cy="342.7" rx="2.8" ry="4.8" fill="#9c7b45" transform="rotate(-15 480.6 342.7)"/><ellipse cx="487.2" cy="343.5" rx="2.6" ry="4.4" fill="#babbce" transform="rotate(-10 487.2 343.5)"/><ellipse cx="518.6" cy="337.7" rx="2.6" ry="4.4" fill="#b0a58f"/><ellipse cx="521.1" cy="331.1" rx="1.4" ry="4.8" fill="#bfae88"/><ellipse cx="540.9" cy="336.9" rx="3.6" ry="5.9" fill="#a08860" transform="rotate(-25 540.9 336.9)"/><ellipse cx="550.0" cy="335.2" rx="2.2" ry="4.4" fill="#7f6238"/><ellipse cx="549.1" cy="342.7" rx="2.4" ry="2.6" fill="#b0b2ca"/><ellipse cx="548.0" cy="351.7" rx="2.0" ry="2.4" fill="#7a5c30"/><ellipse cx="568.9" cy="336.9" rx="5.5" ry="3.2" fill="#9f9682" transform="rotate(-35 568.9 336.9)"/><ellipse cx="560.7" cy="355.1" rx="6.3" ry="3.4" fill="#9c8f74" transform="rotate(-20 560.7 355.1)"/><ellipse cx="537.6" cy="357.5" rx="2.8" ry="2.4" fill="#b0b2ca"/><ellipse cx="541.7" cy="363.3" rx="5.0" ry="2.6" fill="#b0b2ca" transform="rotate(-15 541.7 363.3)"/><ellipse cx="528.5" cy="348.4" rx="2.2" ry="4.4" fill="#c4c0ba" transform="rotate(-15 528.5 348.4)"/><ellipse cx="509.5" cy="357.5" rx="4.0" ry="1.8" fill="#8a6a35" transform="rotate(15 509.5 357.5)"/><ellipse cx="559.9" cy="371.6" rx="5.5" ry="2.0" fill="#b0b2ca" transform="rotate(-15 559.9 371.6)"/><ellipse cx="532.6" cy="379.5" rx="6.7" ry="2.4" fill="#b0b2ca" transform="rotate(10 532.6 379.5)"/><ellipse cx="564.0" cy="305.5" rx="1.8" ry="5.2" fill="#96825c" transform="rotate(5 564.0 305.5)"/><ellipse cx="561.5" cy="298.1" rx="1.8" ry="4.0" fill="#8a7550"/><ellipse cx="569.8" cy="296.4" rx="1.8" ry="3.6" fill="#94794a" transform="rotate(10 569.8 296.4)"/><ellipse cx="559.9" cy="327.0" rx="1.8" ry="5.9" fill="#b09b70" transform="rotate(5 559.9 327.0)"/><ellipse cx="569.8" cy="358.4" rx="3.4" ry="3.0" fill="#bcbfd0"/><ellipse cx="556.6" cy="344.3" rx="4.4" ry="2.4" fill="#b3a583" transform="rotate(-30 556.6 344.3)"/><ellipse cx="565.1" cy="313.8" rx="1.4" ry="4.0" fill="#bfae88"/><ellipse cx="506.2" cy="297.3" rx="1.6" ry="2.8" fill="#a89268" transform="rotate(-20 506.2 297.3)"/><ellipse cx="553.3" cy="346.0" rx="2.8" ry="2.0" fill="#babbce" opacity="0.7" transform="rotate(-30 553.3 346.0)"/></g>
</g>
<rect x="476.5" y="292.2" width="101.79999999999995" height="95.80000000000001" fill="none" stroke="#111" stroke-width="1.35"/>
<clipPath id="ce10"><rect x="476.5" y="394.2" width="101.79999999999995" height="96.19999999999999"/></clipPath>
<g clip-path="url(#ce10)"><rect x="476.5" y="394.2" width="101.79999999999995" height="96.19999999999999" fill="#f0eddd"/>
<rect x="476.5" y="394.2" width="101.79999999999995" height="96.19999999999999" filter="url(#txn)" opacity="0.16"/>
<g filter="url(#nb2)"><ellipse cx="512.0" cy="478.5" rx="9.9" ry="7.4" fill="#f6f3e8" transform="rotate(-30 512.0 478.5)"/><ellipse cx="488.9" cy="433.9" rx="6.6" ry="5.0" fill="#f4f1e4"/></g>
<g filter="url(#nb)"><ellipse cx="525.2" cy="403.4" rx="1.9" ry="2.1" fill="#8e7040"/><ellipse cx="546.2" cy="401.7" rx="2.1" ry="2.1" fill="#8e7040"/><ellipse cx="570.6" cy="400.1" rx="1.5" ry="1.5" fill="#a08550"/><ellipse cx="551.9" cy="415.4" rx="1.9" ry="3.0" fill="#96793f"/><ellipse cx="562.3" cy="423.7" rx="3.0" ry="3.0" fill="#96793f"/><ellipse cx="514.5" cy="423.7" rx="2.3" ry="2.7" fill="#8a7352"/><ellipse cx="540.1" cy="437.7" rx="2.8" ry="3.2" fill="#8e7040"/><ellipse cx="550.5" cy="439.9" rx="1.9" ry="3.0" fill="#8e7040" transform="rotate(15 550.5 439.9)"/><ellipse cx="555.4" cy="443.8" rx="2.7" ry="3.0" fill="#8e7040"/><ellipse cx="552.4" cy="455.7" rx="2.5" ry="2.5" fill="#866a3c"/><ellipse cx="540.9" cy="459.0" rx="2.7" ry="2.3" fill="#8c7448"/><ellipse cx="542.5" cy="454.6" rx="1.5" ry="2.7" fill="#b59a60" transform="rotate(20 542.5 454.6)"/><ellipse cx="504.5" cy="464.0" rx="2.5" ry="2.5" fill="#8e7040"/><ellipse cx="493.5" cy="468.6" rx="2.5" ry="3.0" fill="#947842"/><ellipse cx="526.8" cy="463.7" rx="2.3" ry="2.5" fill="#8e7040"/><ellipse cx="521.1" cy="465.0" rx="1.5" ry="1.5" fill="#a0844c"/><ellipse cx="564.8" cy="469.9" rx="1.7" ry="2.7" fill="#9a7e48"/><ellipse cx="554.9" cy="475.5" rx="2.1" ry="2.3" fill="#9a7e48"/><ellipse cx="545.3" cy="481.5" rx="2.1" ry="2.1" fill="#8e7040"/><ellipse cx="535.9" cy="485.1" rx="3.4" ry="2.7" fill="#b09860" transform="rotate(-20 535.9 485.1)"/><ellipse cx="479.0" cy="476.9" rx="1.9" ry="2.5" fill="#96793f"/><ellipse cx="494.6" cy="480.2" rx="1.9" ry="3.0" fill="#a08a5c"/><ellipse cx="508.2" cy="475.5" rx="1.9" ry="2.7" fill="#8a7c6a"/><ellipse cx="576.4" cy="447.1" rx="1.1" ry="2.7" fill="#a08550"/><ellipse cx="514.1" cy="413.3" rx="1.7" ry="1.7" fill="#babbce"/><ellipse cx="535.6" cy="413.8" rx="1.5" ry="1.5" fill="#babbce"/><ellipse cx="489.7" cy="439.7" rx="1.3" ry="1.3" fill="#c0c2d8"/><ellipse cx="478.1" cy="443.5" rx="1.7" ry="3.0" fill="#bdbfd6"/><ellipse cx="525.5" cy="435.9" rx="1.1" ry="1.1" fill="#cfd0de"/><ellipse cx="485.6" cy="474.4" rx="2.7" ry="3.0" fill="#b0b2ca"/><ellipse cx="531.0" cy="466.1" rx="2.1" ry="4.7" fill="#babbce" transform="rotate(20 531.0 466.1)"/><ellipse cx="529.8" cy="479.3" rx="2.5" ry="2.1" fill="#b0b2ca"/><ellipse cx="483.9" cy="485.1" rx="1.9" ry="2.7" fill="#babbce"/><ellipse cx="493.0" cy="476.0" rx="1.3" ry="1.3" fill="#babbce"/><ellipse cx="487.2" cy="400.9" rx="1.1" ry="7.6" fill="#9a8450" transform="rotate(35 487.2 400.9)"/><ellipse cx="481.4" cy="411.6" rx="1.3" ry="4.2" fill="#77748a" transform="rotate(35 481.4 411.6)"/><ellipse cx="492.2" cy="396.0" rx="2.3" ry="0.9" fill="#b09a64" transform="rotate(-10 492.2 396.0)"/></g>
</g>
<rect x="476.5" y="394.2" width="101.79999999999995" height="96.19999999999999" fill="none" stroke="#111" stroke-width="1.35"/>
<clipPath id="ce20"><rect x="476.5" y="496.2" width="101.79999999999995" height="96.09999999999997"/></clipPath>
<g clip-path="url(#ce20)"><rect x="476.5" y="496.2" width="101.79999999999995" height="96.09999999999997" fill="#eeecd8"/>
<rect x="476.5" y="496.2" width="101.79999999999995" height="96.09999999999997" filter="url(#txn)" opacity="0.14"/>
<g filter="url(#nb2)"><ellipse cx="553.3" cy="514.5" rx="5.0" ry="26.4" fill="#f5f3e6" opacity="0.8" transform="rotate(-40 553.3 514.5)"/><ellipse cx="507.0" cy="542.5" rx="3.3" ry="33.0" fill="#f3f1e2" opacity="0.7" transform="rotate(-40 507.0 542.5)"/></g>
<g filter="url(#nb)"><ellipse cx="534.3" cy="512.5" rx="2.7" ry="4.5" fill="#b5b5c8" transform="rotate(-20 534.3 512.5)"/><ellipse cx="522.7" cy="521.9" rx="3.1" ry="6.2" fill="#c4baa2" transform="rotate(-25 522.7 521.9)"/><ellipse cx="488.9" cy="523.5" rx="4.5" ry="1.9" fill="#b9bbd2" transform="rotate(40 488.9 523.5)"/><ellipse cx="509.5" cy="528.5" rx="3.7" ry="2.3" fill="#babbce" transform="rotate(20 509.5 528.5)"/><ellipse cx="540.1" cy="529.3" rx="2.3" ry="4.1" fill="#c7ba9f" transform="rotate(-15 540.1 529.3)"/><ellipse cx="557.4" cy="535.1" rx="2.3" ry="5.2" fill="#b4b6cf" transform="rotate(-20 557.4 535.1)"/><ellipse cx="514.5" cy="537.9" rx="4.1" ry="2.3" fill="#b6b7cc" transform="rotate(-10 514.5 537.9)"/><ellipse cx="488.9" cy="545.8" rx="2.9" ry="2.1" fill="#c9b890"/><ellipse cx="519.9" cy="550.8" rx="2.3" ry="4.1" fill="#b8b8cb"/><ellipse cx="517.8" cy="563.7" rx="4.1" ry="2.7" fill="#a9acc8" transform="rotate(15 517.8 563.7)"/><ellipse cx="537.6" cy="564.8" rx="5.2" ry="2.3" fill="#babbce" transform="rotate(25 537.6 564.8)"/><ellipse cx="555.7" cy="563.2" rx="2.7" ry="4.5" fill="#babbce" transform="rotate(-30 555.7 563.2)"/><ellipse cx="482.3" cy="564.8" rx="3.3" ry="1.9" fill="#b8a070" transform="rotate(15 482.3 564.8)"/><ellipse cx="495.5" cy="565.7" rx="3.7" ry="1.9" fill="#bdb6b0" transform="rotate(20 495.5 565.7)"/><ellipse cx="572.2" cy="572.3" rx="4.1" ry="2.7" fill="#babbce" transform="rotate(30 572.2 572.3)"/><ellipse cx="548.3" cy="578.9" rx="2.3" ry="4.1" fill="#b8b9cc" transform="rotate(-10 548.3 578.9)"/><ellipse cx="506.2" cy="577.2" rx="2.1" ry="2.1" fill="#babbce"/><ellipse cx="562.3" cy="578.9" rx="2.1" ry="2.5" fill="#c6c8da"/><ellipse cx="509.5" cy="583.5" rx="3.3" ry="1.9" fill="#c0b8a6" transform="rotate(10 509.5 583.5)"/><ellipse cx="540.9" cy="587.9" rx="3.3" ry="1.9" fill="#babbce"/><ellipse cx="571.4" cy="587.1" rx="2.1" ry="2.1" fill="#babbce"/><ellipse cx="495.5" cy="507.0" rx="2.5" ry="1.4" fill="#bda878" transform="rotate(30 495.5 507.0)"/><ellipse cx="521.1" cy="498.8" rx="2.1" ry="2.1" fill="#c8b88e"/><ellipse cx="561.5" cy="506.2" rx="1.9" ry="3.7" fill="#c4b78e" transform="rotate(-20 561.5 506.2)"/><ellipse cx="508.7" cy="503.7" rx="1.4" ry="2.5" fill="#cfd0dc" transform="rotate(-30 508.7 503.7)"/><ellipse cx="480.6" cy="578.0" rx="1.7" ry="1.0" fill="#c4b080" transform="rotate(20 480.6 578.0)"/><ellipse cx="564.0" cy="536.8" rx="1.7" ry="2.5" fill="#c8c0b0"/></g>
</g>
<rect x="476.5" y="496.2" width="101.79999999999995" height="96.09999999999997" fill="none" stroke="#111" stroke-width="1.35"/>
<clipPath id="ce01"><rect x="581.8" y="292.2" width="102.20000000000005" height="95.80000000000001"/></clipPath>
<g clip-path="url(#ce01)"><rect x="581.8" y="292.2" width="102.20000000000005" height="95.80000000000001" fill="#c9ae7c"/>
<rect x="581.8" y="292.2" width="102.20000000000005" height="95.80000000000001" filter="url(#tx4)"/>
<rect x="581.8" y="292.2" width="102.20000000000005" height="95.80000000000001" filter="url(#web)" opacity="0.75"/>
<g filter="url(#nbl)"><ellipse cx="589.6" cy="304.7" rx="5.3" ry="5.6" fill="#f4eedb"/><ellipse cx="607.7" cy="312.1" rx="5.3" ry="7.3" fill="#f4eedb" transform="rotate(10 607.7 312.1)"/><ellipse cx="638.3" cy="301.4" rx="6.3" ry="3.6" fill="#f4eedb" opacity="0.9"/><ellipse cx="619.3" cy="338.5" rx="4.3" ry="4.3" fill="#f4eedb" opacity="0.85"/><ellipse cx="650.7" cy="323.7" rx="4.6" ry="4.6" fill="#f4eedb" opacity="0.9"/><ellipse cx="632.5" cy="346.8" rx="9.1" ry="5.3" fill="#f4eedb" opacity="0.8" transform="rotate(-20 632.5 346.8)"/><ellipse cx="619.3" cy="368.3" rx="10.7" ry="6.9" fill="#f4eedb" opacity="0.85" transform="rotate(-15 619.3 368.3)"/><ellipse cx="671.3" cy="335.2" rx="4.3" ry="6.6" fill="#f4eedb" opacity="0.8"/><ellipse cx="657.3" cy="368.3" rx="6.6" ry="4.3" fill="#f4eedb" opacity="0.8"/><ellipse cx="607.7" cy="379.8" rx="6.6" ry="4.1" fill="#f4eedb" opacity="0.7"/><ellipse cx="592.9" cy="355.9" rx="4.0" ry="3.3" fill="#f4eedb" opacity="0.7"/><ellipse cx="677.1" cy="374.9" rx="5.0" ry="6.6" fill="#f4eedb" opacity="0.6"/><ellipse cx="599.5" cy="323.7" rx="5.0" ry="3.0" fill="#f4eedb" opacity="0.6"/><ellipse cx="663.9" cy="307.2" rx="4.1" ry="3.0" fill="#f4eedb" opacity="0.6"/></g>
<g filter="url(#nb)"><ellipse cx="590.4" cy="301.4" rx="2.3" ry="1.8" fill="#a38a58"/><ellipse cx="616.8" cy="324.5" rx="3.0" ry="3.0" fill="#86703f"/><ellipse cx="602.8" cy="332.8" rx="3.0" ry="3.0" fill="#86703f"/><ellipse cx="594.5" cy="341.8" rx="3.3" ry="3.3" fill="#86703f"/><ellipse cx="602.8" cy="346.0" rx="2.6" ry="2.6" fill="#86703f"/><ellipse cx="586.3" cy="350.9" rx="3.0" ry="3.6" fill="#86703f"/><ellipse cx="609.4" cy="350.9" rx="2.6" ry="2.6" fill="#86703f"/><ellipse cx="596.2" cy="360.0" rx="3.3" ry="3.0" fill="#86703f"/><ellipse cx="608.5" cy="364.1" rx="2.3" ry="2.6" fill="#86703f"/><ellipse cx="635.8" cy="306.3" rx="3.0" ry="2.6" fill="#86703f"/><ellipse cx="644.9" cy="304.7" rx="2.6" ry="3.0" fill="#86703f"/><ellipse cx="625.9" cy="315.4" rx="2.3" ry="2.6" fill="#86703f"/><ellipse cx="650.7" cy="313.8" rx="2.6" ry="3.0" fill="#86703f"/><ellipse cx="663.9" cy="316.2" rx="2.0" ry="2.3" fill="#86703f"/><ellipse cx="677.9" cy="313.8" rx="2.6" ry="2.6" fill="#86703f"/><ellipse cx="675.4" cy="323.7" rx="2.3" ry="2.6" fill="#86703f"/><ellipse cx="633.3" cy="320.4" rx="3.0" ry="3.0" fill="#86703f"/><ellipse cx="635.0" cy="333.6" rx="2.3" ry="2.6" fill="#86703f"/><ellipse cx="645.7" cy="338.5" rx="2.6" ry="3.3" fill="#86703f"/><ellipse cx="653.1" cy="331.1" rx="2.3" ry="2.3" fill="#86703f"/><ellipse cx="650.7" cy="346.0" rx="3.0" ry="3.0" fill="#86703f"/><ellipse cx="665.5" cy="341.8" rx="2.3" ry="2.3" fill="#86703f"/><ellipse cx="675.4" cy="345.1" rx="2.3" ry="2.3" fill="#86703f"/><ellipse cx="668.8" cy="355.9" rx="2.0" ry="2.0" fill="#86703f"/><ellipse cx="677.1" cy="357.5" rx="1.7" ry="2.0" fill="#86703f"/><ellipse cx="649.0" cy="358.4" rx="3.6" ry="3.6" fill="#86703f"/><ellipse cx="644.1" cy="368.3" rx="3.0" ry="3.0" fill="#86703f"/><ellipse cx="636.6" cy="352.6" rx="1.8" ry="3.0" fill="#a8a096"/><ellipse cx="635.8" cy="371.6" rx="2.0" ry="2.6" fill="#86703f"/><ellipse cx="620.1" cy="374.9" rx="3.0" ry="2.3" fill="#86703f"/><ellipse cx="680.4" cy="364.1" rx="2.3" ry="2.3" fill="#86703f"/><ellipse cx="671.3" cy="363.3" rx="1.7" ry="3.0" fill="#86703f"/><ellipse cx="586.3" cy="379.0" rx="2.3" ry="2.6" fill="#86703f"/><ellipse cx="644.9" cy="379.0" rx="1.7" ry="1.7" fill="#86703f"/><ellipse cx="653.1" cy="372.4" rx="1.7" ry="1.7" fill="#86703f"/><ellipse cx="619.3" cy="310.5" rx="1.7" ry="2.0" fill="#86703f"/><ellipse cx="645.7" cy="295.6" rx="2.0" ry="1.7" fill="#86703f"/><ellipse cx="661.4" cy="298.9" rx="1.7" ry="1.7" fill="#86703f"/><ellipse cx="675.4" cy="298.9" rx="1.7" ry="2.0" fill="#86703f"/><ellipse cx="607.7" cy="315.4" rx="2.3" ry="1.7" fill="#a8905c"/><ellipse cx="624.2" cy="305.5" rx="1.5" ry="4.1" fill="#a9a6b8" transform="rotate(5 624.2 305.5)"/><ellipse cx="615.2" cy="356.7" rx="4.1" ry="1.8" fill="#b5b3c8" transform="rotate(-20 615.2 356.7)"/><ellipse cx="629.2" cy="355.9" rx="3.3" ry="1.5" fill="#b5b3c8" transform="rotate(-10 629.2 355.9)"/><ellipse cx="640.7" cy="353.4" rx="1.5" ry="2.3" fill="#9c98b0"/><ellipse cx="635.0" cy="383.1" rx="1.3" ry="2.3" fill="#a9a6b8"/><ellipse cx="599.5" cy="369.9" rx="1.5" ry="3.0" fill="#b0b0c0" transform="rotate(20 599.5 369.9)"/><ellipse cx="649.0" cy="373.2" rx="1.5" ry="2.3" fill="#a9a6b8"/></g>
<rect x="581.8" y="292.2" width="102.20000000000005" height="95.80000000000001" filter="url(#grain)" opacity="0.22"/><rect x="581.8" y="292.2" width="102.20000000000005" height="95.80000000000001" filter="url(#grainl)" opacity="0.2"/>
<g filter="url(#nbl)"><ellipse cx="589.6" cy="304.7" rx="4.6" ry="5.0" fill="#f5f0df" opacity="0.9"/><ellipse cx="607.7" cy="312.1" rx="4.6" ry="6.6" fill="#f5f0df" opacity="0.9" transform="rotate(10 607.7 312.1)"/><ellipse cx="638.3" cy="301.4" rx="5.6" ry="3.0" fill="#f5f0df" opacity="0.75"/><ellipse cx="619.3" cy="338.5" rx="3.6" ry="3.6" fill="#f5f0df" opacity="0.7"/><ellipse cx="650.7" cy="323.7" rx="4.0" ry="4.0" fill="#f5f0df" opacity="0.75"/><ellipse cx="632.5" cy="346.8" rx="7.9" ry="4.3" fill="#f5f0df" opacity="0.7" transform="rotate(-20 632.5 346.8)"/><ellipse cx="619.3" cy="368.3" rx="9.6" ry="5.9" fill="#f5f0df" opacity="0.75" transform="rotate(-15 619.3 368.3)"/><ellipse cx="671.3" cy="335.2" rx="3.3" ry="5.6" fill="#f5f0df" opacity="0.65"/><ellipse cx="657.3" cy="368.3" rx="5.6" ry="3.3" fill="#f5f0df" opacity="0.65"/><ellipse cx="607.7" cy="379.8" rx="5.6" ry="3.3" fill="#f5f0df" opacity="0.6"/></g>
<g filter="url(#nb)"><ellipse cx="590.4" cy="301.9" rx="2.1" ry="1.7" fill="#a38a58"/><ellipse cx="607.7" cy="315.4" rx="2.1" ry="1.5" fill="#a8905c"/></g>
</g>
<rect x="581.8" y="292.2" width="102.20000000000005" height="95.80000000000001" fill="none" stroke="#111" stroke-width="1.35"/>
<clipPath id="ce11"><rect x="581.8" y="394.2" width="102.20000000000005" height="96.19999999999999"/></clipPath>
<g clip-path="url(#ce11)"><rect x="581.8" y="394.2" width="102.20000000000005" height="96.19999999999999" fill="#c8b38c"/>
<rect x="581.8" y="394.2" width="102.20000000000005" height="96.19999999999999" filter="url(#tx7)"/>
<g filter="url(#nbl)"><ellipse cx="609.0" cy="452.6" rx="28.0" ry="4.8" fill="#f5f0de" transform="rotate(33 609.0 452.6)"/><ellipse cx="648.3" cy="474.4" rx="16.0" ry="3.5" fill="#f5f0de" opacity="0.95" transform="rotate(22 648.3 474.4)"/><ellipse cx="668.3" cy="410.6" rx="3.5" ry="4.5" fill="#f5f0de" opacity="0.9"/><ellipse cx="627.8" cy="417.0" rx="3.5" ry="3.5" fill="#f5f0de" opacity="0.7"/><ellipse cx="655.5" cy="427.5" rx="2.9" ry="3.8" fill="#f5f0de" opacity="0.7"/><ellipse cx="585.8" cy="417.0" rx="4.0" ry="3.2" fill="#f5f0de" opacity="0.6"/><ellipse cx="677.2" cy="465.1" rx="4.0" ry="3.2" fill="#f5f0de" opacity="0.6"/><ellipse cx="597.0" cy="487.6" rx="8.0" ry="3.2" fill="#f5f0de" opacity="0.6"/><ellipse cx="670.7" cy="482.7" rx="4.8" ry="3.2" fill="#f5f0de" opacity="0.5"/></g>
<g filter="url(#nb2)"><ellipse cx="590.6" cy="404.2" rx="6.4" ry="4.0" fill="#a88545" opacity="0.8" transform="rotate(-15 590.6 404.2)"/><ellipse cx="594.6" cy="429.1" rx="9.6" ry="3.5" fill="#a88545" opacity="0.85" transform="rotate(20 594.6 429.1)"/><ellipse cx="605.0" cy="441.1" rx="9.6" ry="3.2" fill="#9c7b3e" opacity="0.9" transform="rotate(30 605.0 441.1)"/><ellipse cx="612.2" cy="446.7" rx="8.0" ry="2.9" fill="#a88545" opacity="0.8" transform="rotate(30 612.2 446.7)"/><ellipse cx="614.7" cy="403.4" rx="6.4" ry="4.8" fill="#b0925a" opacity="0.8"/><ellipse cx="629.1" cy="401.8" rx="5.6" ry="3.2" fill="#b0925a" opacity="0.6"/><ellipse cx="662.7" cy="409.0" rx="3.5" ry="6.4" fill="#a88545" opacity="0.75"/><ellipse cx="678.8" cy="423.4" rx="3.2" ry="6.4" fill="#a88545" opacity="0.8"/><ellipse cx="681.2" cy="442.7" rx="1.9" ry="6.4" fill="#a88545" opacity="0.8"/><ellipse cx="645.1" cy="465.1" rx="3.5" ry="4.8" fill="#a88545" opacity="0.75"/><ellipse cx="670.7" cy="460.3" rx="4.8" ry="2.6" fill="#a88545" opacity="0.7"/><ellipse cx="677.2" cy="469.9" rx="4.8" ry="2.9" fill="#a88545" opacity="0.7"/><ellipse cx="637.1" cy="476.7" rx="7.2" ry="2.1" fill="#9c7b3e" opacity="0.85" transform="rotate(10 637.1 476.7)"/><ellipse cx="619.5" cy="467.5" rx="1.8" ry="3.5" fill="#8c6c35" opacity="0.9"/><ellipse cx="585.8" cy="445.9" rx="2.2" ry="4.8" fill="#a88545" opacity="0.6"/><ellipse cx="656.3" cy="413.8" rx="3.2" ry="2.2" fill="#a88545" opacity="0.5"/><ellipse cx="605.0" cy="486.8" rx="6.4" ry="2.2" fill="#a88545" opacity="0.6"/><ellipse cx="584.2" cy="409.0" rx="2.2" ry="6.4" fill="#a88545" opacity="0.6"/></g>
<g filter="url(#nbs)" stroke="#6f6450" stroke-width="0.8" stroke-opacity="0.4"><ellipse cx="604.2" cy="408.2" rx="4.5" ry="3.5" fill="#a29680" transform="rotate(-20.103031210008123 604.2 408.2)"/><ellipse cx="596.2" cy="421.8" rx="4.0" ry="3.5" fill="#a29680" transform="rotate(8.09999642428324 596.2 421.8)"/><ellipse cx="606.6" cy="423.4" rx="4.0" ry="3.5" fill="#a29680" transform="rotate(20.59671530843422 606.6 423.4)"/><ellipse cx="615.5" cy="427.5" rx="3.5" ry="3.2" fill="#b0a690" transform="rotate(18.471258117205657 615.5 427.5)"/><ellipse cx="626.7" cy="421.8" rx="3.5" ry="4.0" fill="#b0a690" transform="rotate(-18.985122216455277 626.7 421.8)"/><ellipse cx="647.5" cy="419.4" rx="4.0" ry="4.8" fill="#a89e8c" transform="rotate(-15.83661819022737 647.5 419.4)"/><ellipse cx="639.5" cy="423.4" rx="3.5" ry="3.5" fill="#b0a690" transform="rotate(-29.15271906358897 639.5 423.4)"/><ellipse cx="636.3" cy="430.7" rx="4.0" ry="3.5" fill="#a39884" transform="rotate(-4.308532892496249 636.3 430.7)"/><ellipse cx="619.5" cy="433.9" rx="4.0" ry="3.5" fill="#a39884" transform="rotate(17.62506131141791 619.5 433.9)"/><ellipse cx="629.1" cy="437.9" rx="3.5" ry="3.2" fill="#a89e8c" transform="rotate(25.289700433326487 629.1 437.9)"/><ellipse cx="641.1" cy="435.5" rx="3.5" ry="4.0" fill="#a29680" transform="rotate(-3.788644821541965 641.1 435.5)"/><ellipse cx="648.3" cy="441.1" rx="4.0" ry="4.0" fill="#a89e8c" transform="rotate(6.953405339348436 648.3 441.1)"/><ellipse cx="637.1" cy="441.9" rx="3.2" ry="3.5" fill="#b0a690" transform="rotate(27.405946401773093 637.1 441.9)"/><ellipse cx="622.7" cy="444.3" rx="3.5" ry="3.5" fill="#a89e8c" transform="rotate(-0.14686091516223598 622.7 444.3)"/><ellipse cx="657.9" cy="429.9" rx="3.5" ry="4.0" fill="#ada496" transform="rotate(8.928971418126274 657.9 429.9)"/><ellipse cx="656.3" cy="447.5" rx="4.0" ry="3.5" fill="#a89e8c" transform="rotate(-28.606550773316748 656.3 447.5)"/><ellipse cx="664.3" cy="445.9" rx="3.5" ry="3.5" fill="#a89e8c" transform="rotate(-22.507373925173482 664.3 445.9)"/><ellipse cx="674.8" cy="440.3" rx="3.5" ry="4.5" fill="#b0a690" transform="rotate(-2.8123443598604503 674.8 440.3)"/><ellipse cx="675.6" cy="455.5" rx="4.5" ry="4.5" fill="#a29680" transform="rotate(13.707484309191145 675.6 455.5)"/><ellipse cx="644.3" cy="457.1" rx="4.0" ry="4.0" fill="#a39884" transform="rotate(-0.9177816728811337 644.3 457.1)"/><ellipse cx="633.9" cy="453.9" rx="3.5" ry="3.2" fill="#a29680" transform="rotate(9.906485991391335 633.9 453.9)"/><ellipse cx="625.9" cy="454.7" rx="3.2" ry="2.9" fill="#a39884" transform="rotate(21.953135052387886 625.9 454.7)"/><ellipse cx="653.1" cy="461.9" rx="4.0" ry="4.0" fill="#a39884" transform="rotate(-25.522599765542445 653.1 461.9)"/><ellipse cx="662.7" cy="458.7" rx="3.2" ry="3.2" fill="#b0a690" transform="rotate(-17.486267086657428 662.7 458.7)"/><ellipse cx="670.7" cy="463.5" rx="3.5" ry="3.2" fill="#a89e8c" transform="rotate(29.329149006198662 670.7 463.5)"/><ellipse cx="660.3" cy="472.3" rx="4.0" ry="3.5" fill="#a29680" transform="rotate(-22.651327747051575 660.3 472.3)"/><ellipse cx="651.5" cy="471.5" rx="3.5" ry="3.5" fill="#a29680" transform="rotate(3.5365555407187728 651.5 471.5)"/><ellipse cx="668.3" cy="474.7" rx="3.5" ry="3.5" fill="#a39884" transform="rotate(-17.935234602735434 668.3 474.7)"/><ellipse cx="657.9" cy="483.5" rx="4.0" ry="3.5" fill="#a29680" transform="rotate(23.253582955519725 657.9 483.5)"/><ellipse cx="666.7" cy="485.1" rx="3.5" ry="3.2" fill="#a29680" transform="rotate(-12.48076228862083 666.7 485.1)"/><ellipse cx="675.6" cy="476.3" rx="3.2" ry="3.5" fill="#ada496" transform="rotate(0.08634584506348375 675.6 476.3)"/><ellipse cx="609.0" cy="462.7" rx="4.0" ry="4.0" fill="#a29680" transform="rotate(29.690563597285355 609.0 462.7)"/><ellipse cx="600.2" cy="459.5" rx="3.5" ry="3.2" fill="#a89e8c" transform="rotate(-14.0577216326435 600.2 459.5)"/><ellipse cx="592.2" cy="463.5" rx="3.5" ry="3.5" fill="#a29680" transform="rotate(-20.463376022237885 592.2 463.5)"/><ellipse cx="587.4" cy="452.3" rx="2.9" ry="3.5" fill="#a89e8c" transform="rotate(-29.830080498066724 587.4 452.3)"/><ellipse cx="595.4" cy="452.3" rx="3.5" ry="3.2" fill="#b0a690" transform="rotate(3.0258539018234814 595.4 452.3)"/><ellipse cx="602.6" cy="471.5" rx="3.5" ry="3.2" fill="#b0a690" transform="rotate(-16.67801876149248 602.6 471.5)"/><ellipse cx="609.8" cy="475.5" rx="4.5" ry="4.0" fill="#b0a690" transform="rotate(-10.881530840775223 609.8 475.5)"/><ellipse cx="593.8" cy="473.1" rx="3.5" ry="3.5" fill="#a39884" transform="rotate(-23.237421878869526 593.8 473.1)"/><ellipse cx="589.0" cy="480.3" rx="3.2" ry="3.5" fill="#ada496" transform="rotate(7.58982420632568 589.0 480.3)"/><ellipse cx="601.8" cy="482.7" rx="4.0" ry="3.2" fill="#b0a690" transform="rotate(-9.203194784290144 601.8 482.7)"/><ellipse cx="624.3" cy="467.5" rx="3.5" ry="3.5" fill="#a39884" transform="rotate(25.78221886155633 624.3 467.5)"/><ellipse cx="617.9" cy="409.0" rx="3.5" ry="4.0" fill="#a89e8c" transform="rotate(-23.803606255937034 617.9 409.0)"/><ellipse cx="629.1" cy="407.4" rx="3.2" ry="3.5" fill="#a39884" transform="rotate(25.38778639451973 629.1 407.4)"/><ellipse cx="649.9" cy="406.6" rx="3.5" ry="3.2" fill="#ada496" transform="rotate(16.621115250311192 649.9 406.6)"/><ellipse cx="652.3" cy="398.6" rx="4.0" ry="2.9" fill="#a89e8c" transform="rotate(-20.40689542143712 652.3 398.6)"/><ellipse cx="669.9" cy="425.1" rx="3.5" ry="4.0" fill="#a39884" transform="rotate(10.55410691484635 669.9 425.1)"/><ellipse cx="644.3" cy="483.5" rx="3.5" ry="3.2" fill="#a39884" transform="rotate(-5.579120404518932 644.3 483.5)"/><ellipse cx="637.1" cy="485.6" rx="2.4" ry="1.9" fill="#b0a690" transform="rotate(27.685785923239926 637.1 485.6)"/><ellipse cx="666.7" cy="433.9" rx="2.9" ry="3.2" fill="#ada496" transform="rotate(-29.14423366643355 666.7 433.9)"/><ellipse cx="639.5" cy="407.4" rx="3.8" ry="2.6" fill="#a29680" transform="rotate(-0.5452883961198189 639.5 407.4)"/><ellipse cx="675.6" cy="420.2" rx="3.2" ry="3.8" fill="#a39884" transform="rotate(10.016170105579988 675.6 420.2)"/><ellipse cx="664.3" cy="413.0" rx="2.6" ry="3.2" fill="#a89e8c" transform="rotate(-20.262446003340152 664.3 413.0)"/></g>
<g filter="url(#nb)"><ellipse cx="636.3" cy="399.4" rx="3.5" ry="1.3" fill="#a9a9c4" transform="rotate(-10 636.3 399.4)"/><ellipse cx="652.3" cy="412.6" rx="2.2" ry="1.3" fill="#9a9ab8" transform="rotate(30 652.3 412.6)"/></g>
<rect x="581.8" y="394.2" width="102.20000000000005" height="96.19999999999999" filter="url(#grain)" opacity="0.22"/><rect x="581.8" y="394.2" width="102.20000000000005" height="96.19999999999999" filter="url(#grainl)" opacity="0.2"/>
<g filter="url(#nb)"><ellipse cx="597.0" cy="444.6" rx="17.6" ry="3.2" fill="#f4efde" transform="rotate(32 597.0 444.6)"/><ellipse cx="621.1" cy="460.3" rx="16.0" ry="3.0" fill="#f4efde" transform="rotate(34 621.1 460.3)"/><ellipse cx="645.1" cy="473.1" rx="14.4" ry="2.2" fill="#f4efde" opacity="0.95" transform="rotate(22 645.1 473.1)"/><ellipse cx="664.3" cy="480.3" rx="6.4" ry="1.6" fill="#f4efde" opacity="0.8" transform="rotate(15 664.3 480.3)"/></g>
</g>
<rect x="581.8" y="394.2" width="102.20000000000005" height="96.19999999999999" fill="none" stroke="#111" stroke-width="1.35"/>
<clipPath id="ce21"><rect x="581.8" y="496.2" width="102.20000000000005" height="96.09999999999997"/></clipPath>
<g clip-path="url(#ce21)"><rect x="581.8" y="496.2" width="102.20000000000005" height="96.09999999999997" fill="#c9b285"/>
<rect x="581.8" y="496.2" width="102.20000000000005" height="96.09999999999997" filter="url(#tx9)"/>
<rect x="581.8" y="496.2" width="102.20000000000005" height="96.09999999999997" filter="url(#web2)" opacity="0.3"/>
<g filter="url(#nbl)"><ellipse cx="606.6" cy="516.6" rx="6.1" ry="5.3" fill="#f5f0de"/><ellipse cx="643.5" cy="506.2" rx="7.2" ry="3.5" fill="#f5f0de" opacity="0.8" transform="rotate(-10 643.5 506.2)"/><ellipse cx="649.9" cy="528.7" rx="5.3" ry="5.3" fill="#f5f0de" opacity="0.9"/><ellipse cx="635.5" cy="549.5" rx="7.2" ry="3.5" fill="#f5f0de" opacity="0.9" transform="rotate(-15 635.5 549.5)"/><ellipse cx="617.9" cy="539.1" rx="4.8" ry="2.6" fill="#f5f0de" opacity="0.7"/><ellipse cx="603.4" cy="575.4" rx="21.6" ry="2.4" fill="#f5f0de" transform="rotate(8 603.4 575.4)"/><ellipse cx="590.6" cy="585.5" rx="9.6" ry="3.2" fill="#f5f0de" opacity="0.9"/><ellipse cx="668.3" cy="571.6" rx="7.2" ry="2.9" fill="#f5f0de" opacity="0.8"/><ellipse cx="679.1" cy="535.1" rx="2.9" ry="4.8" fill="#f5f0de" opacity="0.7"/><ellipse cx="659.5" cy="585.5" rx="7.2" ry="4.0" fill="#f5f0de" opacity="0.7"/><ellipse cx="629.1" cy="585.5" rx="6.4" ry="3.5" fill="#f5f0de" opacity="0.8"/><ellipse cx="632.3" cy="520.6" rx="4.0" ry="3.2" fill="#f5f0de" opacity="0.6"/><ellipse cx="645.1" cy="539.9" rx="4.0" ry="3.2" fill="#f5f0de" opacity="0.5"/><ellipse cx="610.6" cy="554.3" rx="4.8" ry="2.9" fill="#f5f0de" opacity="0.5"/></g>
<g filter="url(#nb2)"><ellipse cx="648.3" cy="579.9" rx="7.2" ry="6.7" fill="#9c7f48" opacity="0.9"/><ellipse cx="637.1" cy="569.0" rx="5.1" ry="4.5" fill="#ae9460" opacity="0.7"/><ellipse cx="615.5" cy="583.5" rx="4.2" ry="2.9" fill="#8f7038" opacity="0.85"/><ellipse cx="605.0" cy="581.9" rx="3.5" ry="2.1" fill="#a08248" opacity="0.8"/><ellipse cx="637.9" cy="505.4" rx="3.5" ry="1.3" fill="#7d6030"/><ellipse cx="613.1" cy="540.2" rx="1.9" ry="3.5" fill="#8a6a30"/><ellipse cx="645.9" cy="553.8" rx="4.0" ry="1.9" fill="#87683a"/><ellipse cx="677.2" cy="558.8" rx="4.8" ry="4.0" fill="#b09458" opacity="0.7"/><ellipse cx="629.1" cy="515.4" rx="2.6" ry="2.2" fill="#8a6c38" opacity="0.9"/><ellipse cx="590.6" cy="571.9" rx="4.8" ry="2.9" fill="#b09860" opacity="0.6"/></g>
<g filter="url(#nbs)" stroke="#6e5a30" stroke-width="0.8" stroke-opacity="0.4"><ellipse cx="594.6" cy="503.0" rx="3.8" ry="3.3" fill="#9c8a60" transform="rotate(-2.2195585310987127 594.6 503.0)"/><ellipse cx="585.8" cy="503.0" rx="2.7" ry="3.0" fill="#a8956c" transform="rotate(-13.971934703645378 585.8 503.0)"/><ellipse cx="602.6" cy="505.4" rx="3.8" ry="3.8" fill="#a08c62" transform="rotate(21.99371099918048 602.6 505.4)"/><ellipse cx="611.4" cy="503.8" rx="3.8" ry="3.8" fill="#a9987a" transform="rotate(-9.700469298907187 611.4 503.8)"/><ellipse cx="619.5" cy="511.0" rx="4.3" ry="3.8" fill="#a08c62" transform="rotate(23.897878201916285 619.5 511.0)"/><ellipse cx="633.9" cy="510.2" rx="3.3" ry="3.8" fill="#a3906a" transform="rotate(-9.958559473930094 633.9 510.2)"/><ellipse cx="658.7" cy="507.0" rx="4.6" ry="4.3" fill="#a9987a" transform="rotate(12.005897927684678 658.7 507.0)"/><ellipse cx="668.8" cy="503.3" rx="3.3" ry="3.0" fill="#a9987a" transform="rotate(-19.835147692197392 668.8 503.3)"/><ellipse cx="680.4" cy="504.6" rx="2.7" ry="3.0" fill="#a9987a" transform="rotate(27.076271798490893 680.4 504.6)"/><ellipse cx="654.7" cy="519.0" rx="3.8" ry="3.3" fill="#a8956c" transform="rotate(-20.570570304202448 654.7 519.0)"/><ellipse cx="669.9" cy="511.8" rx="4.3" ry="3.8" fill="#a8956c" transform="rotate(-26.919958541863775 669.9 511.8)"/><ellipse cx="677.2" cy="520.6" rx="3.8" ry="3.8" fill="#a3906a" transform="rotate(0.37614310013893615 677.2 520.6)"/><ellipse cx="664.3" cy="525.4" rx="4.3" ry="3.8" fill="#a9987a" transform="rotate(-26.200345706548042 664.3 525.4)"/><ellipse cx="672.3" cy="535.9" rx="3.8" ry="4.6" fill="#a08c62" transform="rotate(17.375696336967593 672.3 535.9)"/><ellipse cx="642.7" cy="516.6" rx="3.8" ry="3.8" fill="#a8956c" transform="rotate(25.13732550643895 642.7 516.6)"/><ellipse cx="594.6" cy="515.0" rx="3.8" ry="3.8" fill="#a9987a" transform="rotate(10.454160075322271 594.6 515.0)"/><ellipse cx="586.6" cy="511.0" rx="3.0" ry="2.7" fill="#9c8a60" transform="rotate(23.374563345780544 586.6 511.0)"/><ellipse cx="621.9" cy="519.8" rx="4.6" ry="3.3" fill="#a9987a" transform="rotate(24.682756756196973 621.9 519.8)"/><ellipse cx="625.1" cy="527.9" rx="3.8" ry="4.6" fill="#a08c62" transform="rotate(-13.128935094925872 625.1 527.9)"/><ellipse cx="617.1" cy="529.5" rx="3.8" ry="3.8" fill="#a08c62" transform="rotate(-18.031006734609285 617.1 529.5)"/><ellipse cx="596.2" cy="529.5" rx="3.3" ry="3.8" fill="#a08c62" transform="rotate(22.762391304010613 596.2 529.5)"/><ellipse cx="601.8" cy="535.9" rx="3.8" ry="4.3" fill="#a9987a" transform="rotate(23.748762478895365 601.8 535.9)"/><ellipse cx="588.2" cy="535.9" rx="3.3" ry="4.3" fill="#a8956c" transform="rotate(-21.651430864565153 588.2 535.9)"/><ellipse cx="609.0" cy="542.3" rx="3.3" ry="4.6" fill="#a08c62" transform="rotate(-4.516478894844536 609.0 542.3)"/><ellipse cx="592.2" cy="541.5" rx="4.3" ry="3.8" fill="#a08c62" transform="rotate(27.84075361349239 592.2 541.5)"/><ellipse cx="585.8" cy="544.7" rx="2.7" ry="3.3" fill="#a3906a" transform="rotate(-22.72605355186918 585.8 544.7)"/><ellipse cx="637.1" cy="529.5" rx="4.3" ry="4.3" fill="#a8956c" transform="rotate(-18.13977916748668 637.1 529.5)"/><ellipse cx="632.3" cy="541.5" rx="4.3" ry="3.8" fill="#a08c62" transform="rotate(-10.186998095399492 632.3 541.5)"/><ellipse cx="624.3" cy="550.3" rx="4.3" ry="3.3" fill="#a08c62" transform="rotate(-22.00899636457737 624.3 550.3)"/><ellipse cx="593.0" cy="551.1" rx="3.8" ry="3.3" fill="#a3906a" transform="rotate(0.04820335723603719 593.0 551.1)"/><ellipse cx="601.8" cy="558.3" rx="3.8" ry="3.3" fill="#a8956c" transform="rotate(-0.19550105739192958 601.8 558.3)"/><ellipse cx="589.0" cy="561.5" rx="3.8" ry="3.8" fill="#a9987a" transform="rotate(-4.793554513683837 589.0 561.5)"/><ellipse cx="603.4" cy="563.9" rx="3.8" ry="3.8" fill="#a08c62" transform="rotate(-18.470130426264912 603.4 563.9)"/><ellipse cx="617.1" cy="563.9" rx="4.3" ry="3.8" fill="#a8956c" transform="rotate(12.050859591275518 617.1 563.9)"/><ellipse cx="629.1" cy="559.1" rx="3.8" ry="4.3" fill="#a3906a" transform="rotate(-19.646688428648353 629.1 559.1)"/><ellipse cx="640.3" cy="559.9" rx="4.3" ry="4.0" fill="#a08c62" transform="rotate(13.178115766492148 640.3 559.9)"/><ellipse cx="654.7" cy="543.1" rx="4.6" ry="4.6" fill="#a3906a" transform="rotate(-26.74960779994972 654.7 543.1)"/><ellipse cx="661.1" cy="553.5" rx="3.8" ry="3.3" fill="#a8956c" transform="rotate(10.993498834839826 661.1 553.5)"/><ellipse cx="670.7" cy="549.5" rx="4.3" ry="3.8" fill="#a3906a" transform="rotate(14.708984465141839 670.7 549.5)"/><ellipse cx="672.3" cy="559.1" rx="3.8" ry="3.3" fill="#a08c62" transform="rotate(29.877856240080966 672.3 559.1)"/><ellipse cx="664.3" cy="565.5" rx="3.8" ry="4.3" fill="#a9987a" transform="rotate(22.119603621423956 664.3 565.5)"/><ellipse cx="653.1" cy="568.7" rx="4.3" ry="3.8" fill="#a8956c" transform="rotate(27.055367189411236 653.1 568.7)"/><ellipse cx="626.7" cy="573.5" rx="3.3" ry="3.3" fill="#a3906a" transform="rotate(-20.295616860183728 626.7 573.5)"/><ellipse cx="615.5" cy="572.7" rx="3.3" ry="2.7" fill="#9c8a60" transform="rotate(-27.418155341150296 615.5 572.7)"/><ellipse cx="656.3" cy="534.3" rx="3.0" ry="2.7" fill="#a3906a" transform="rotate(20.739949050899476 656.3 534.3)"/><ellipse cx="677.2" cy="568.7" rx="3.0" ry="3.3" fill="#a08c62" transform="rotate(5.415542527391658 677.2 568.7)"/><ellipse cx="678.8" cy="544.7" rx="2.1" ry="3.7" fill="#a08c62" transform="rotate(22.042255705832602 678.8 544.7)"/></g>
<g filter="url(#nb)"><ellipse cx="600.6" cy="525.4" rx="0.8" ry="0.8" fill="#5a5a80"/><ellipse cx="659.8" cy="533.8" rx="1.0" ry="1.0" fill="#44405a"/><ellipse cx="630.7" cy="548.7" rx="1.0" ry="1.0" fill="#6a6a90"/><ellipse cx="650.2" cy="554.3" rx="1.0" ry="1.0" fill="#55557a"/><ellipse cx="586.1" cy="531.5" rx="0.8" ry="0.5" fill="#6a6a90"/></g>
<rect x="581.8" y="496.2" width="102.20000000000005" height="96.09999999999997" filter="url(#grain)" opacity="0.22"/><rect x="581.8" y="496.2" width="102.20000000000005" height="96.09999999999997" filter="url(#grainl)" opacity="0.2"/>
<g filter="url(#nbl)"><ellipse cx="596.9" cy="577.2" rx="14.0" ry="4.6" fill="#f5f0df" transform="rotate(8 596.9 577.2)"/><ellipse cx="629.6" cy="572.3" rx="4.9" ry="4.3" fill="#f5f0df" opacity="0.95"/><ellipse cx="626.5" cy="586.3" rx="7.6" ry="3.3" fill="#f5f0df" opacity="0.95"/><ellipse cx="663.7" cy="580.2" rx="12.9" ry="6.1" fill="#f5f0df" opacity="0.95"/><ellipse cx="678.9" cy="566.3" rx="4.3" ry="2.7" fill="#f5f0df" opacity="0.8"/><ellipse cx="655.4" cy="549.6" rx="6.1" ry="2.7" fill="#f5f0df" opacity="0.8"/><ellipse cx="585.6" cy="551.1" rx="3.3" ry="2.7" fill="#f5f0df" opacity="0.7"/><ellipse cx="590.1" cy="589.0" rx="7.6" ry="2.1" fill="#f5f0df" opacity="0.9"/><ellipse cx="678.2" cy="589.0" rx="4.6" ry="2.7" fill="#f5f0df" opacity="0.8"/></g>
<g filter="url(#nbl)"><ellipse cx="647.0" cy="580.7" rx="6.4" ry="7.0" fill="#957a45" opacity="0.95"/><ellipse cx="637.2" cy="569.3" rx="4.9" ry="4.3" fill="#a48e60" opacity="0.9"/><ellipse cx="670.6" cy="566.3" rx="5.8" ry="5.5" fill="#a89060" opacity="0.85"/><ellipse cx="646.3" cy="554.1" rx="3.8" ry="2.4" fill="#6e5428" opacity="0.9"/><ellipse cx="603.8" cy="581.4" rx="3.6" ry="2.4" fill="#9a7e45" opacity="0.9"/><ellipse cx="616.2" cy="584.2" rx="4.3" ry="3.0" fill="#94783f" opacity="0.9"/><ellipse cx="622.0" cy="591.3" rx="2.1" ry="1.5" fill="#7a5a28" opacity="0.9"/><ellipse cx="673.6" cy="590.5" rx="4.6" ry="2.1" fill="#a48a50" opacity="0.8"/><ellipse cx="657.7" cy="577.6" rx="2.1" ry="3.0" fill="#a08850" opacity="0.8"/></g>
<g filter="url(#nbl)"><ellipse cx="606.6" cy="516.6" rx="5.4" ry="4.8" fill="#f5f0df" opacity="0.95"/><ellipse cx="649.9" cy="528.7" rx="4.8" ry="4.8" fill="#f5f0df" opacity="0.9"/><ellipse cx="635.5" cy="549.5" rx="6.7" ry="3.2" fill="#f5f0df" opacity="0.9" transform="rotate(-15 635.5 549.5)"/><ellipse cx="643.8" cy="506.2" rx="6.4" ry="2.9" fill="#f5f0df" opacity="0.8" transform="rotate(-10 643.8 506.2)"/></g>
</g>
<rect x="581.8" y="496.2" width="102.20000000000005" height="96.09999999999997" fill="none" stroke="#111" stroke-width="1.35"/>
<rect x="663" y="583" width="14.9" height="2.8" fill="#000"/>
</svg>
</body></html>
